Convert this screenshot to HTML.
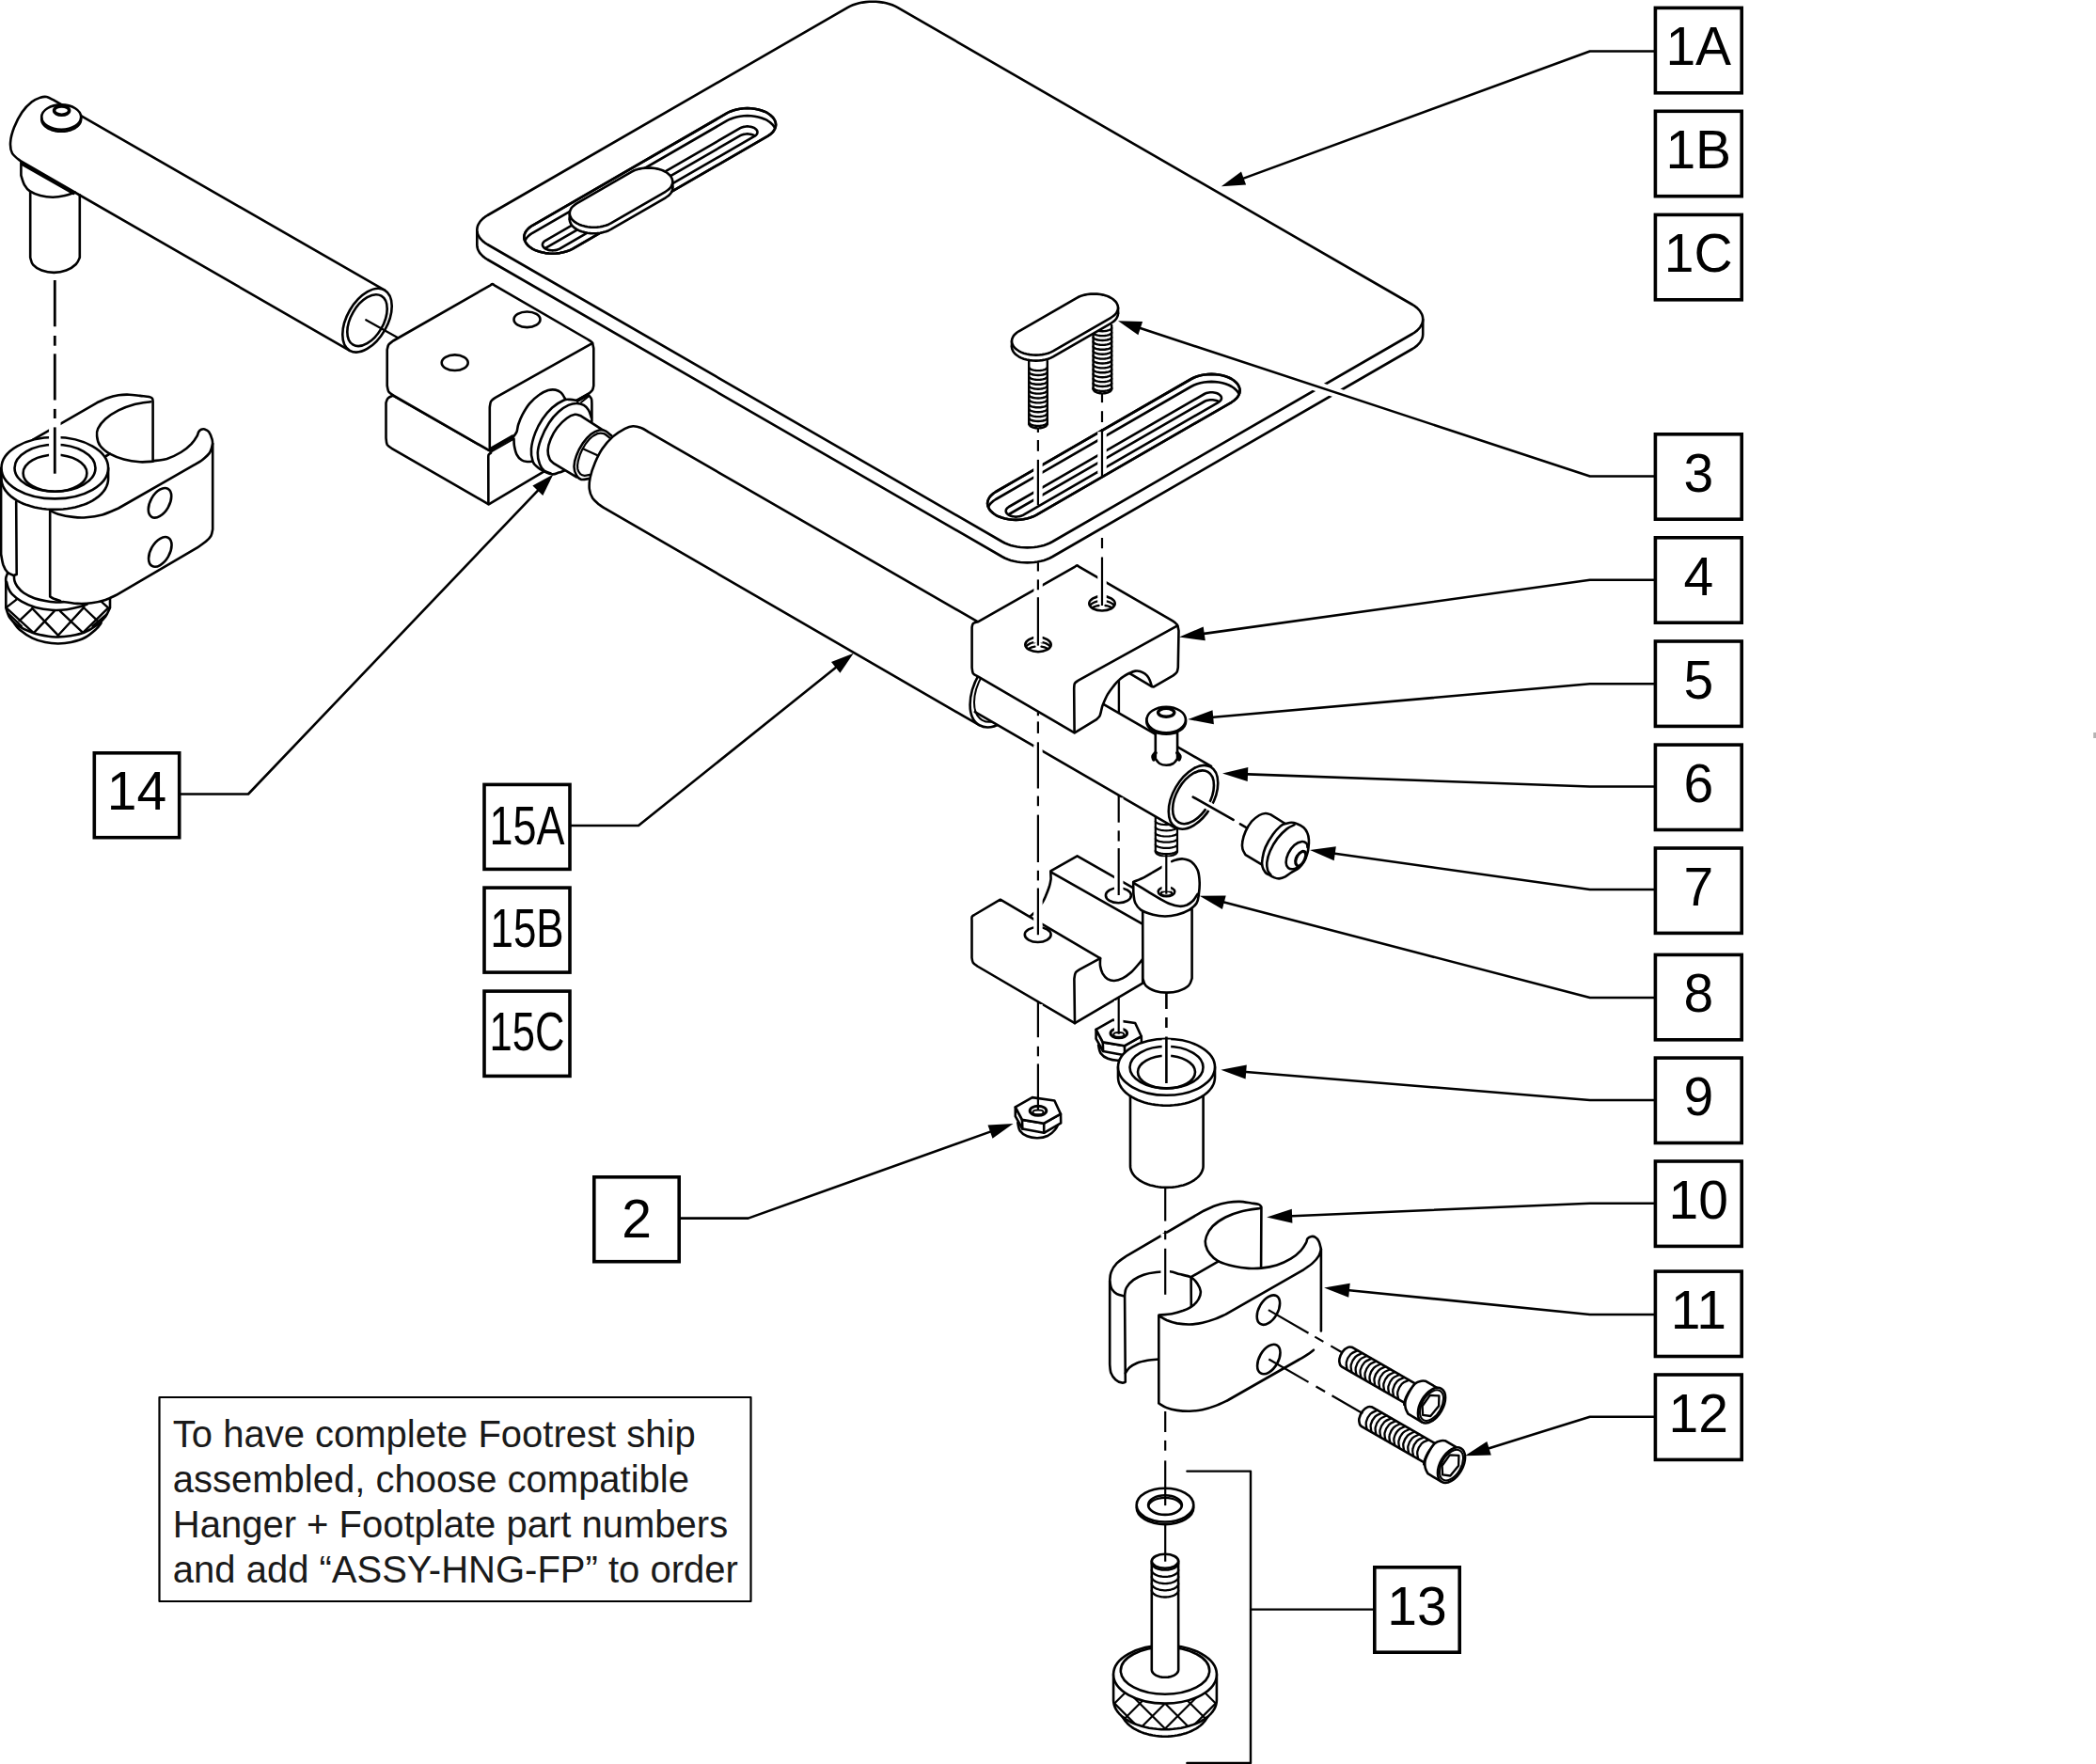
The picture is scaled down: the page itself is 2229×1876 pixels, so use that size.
<!DOCTYPE html>
<html><head><meta charset="utf-8"><title>Footrest exploded view</title>
<style>
html,body{margin:0;padding:0;background:#fff;}
body{width:2229px;height:1876px;overflow:hidden;}
svg{display:block;}
text{font-family:"Liberation Sans",sans-serif;}
</style></head><body>
<svg width="2229" height="1876" viewBox="0 0 2229 1876" fill="none" stroke="#000" stroke-width="2.6" stroke-linecap="round" stroke-linejoin="round">
<rect x="2226.2" y="779" width="3" height="6" fill="#b3b3b3" stroke="none"/>
<path d="M409.1 308.6 L56.1 105.9 C55 105.4 51.7 103.4 49.6 103 C47.4 102.7 45.6 102.8 43 103.7 C40.4 104.6 37.2 105.6 33.9 108.3 C30.6 110.9 26.6 114.8 23.5 119.3 C20.3 123.9 17.1 130.3 15 135.6 C12.9 141 11.4 146.7 11.1 151.3 C10.8 155.8 11.2 159.7 13 163 C14.9 166.4 20.6 170.1 22.2 171.5 L371.9 372.8 Z" fill="#fff"/>
<ellipse cx="390.5" cy="340.7" rx="21.4" ry="37.1" fill="#fff" transform="rotate(30 390.5 340.7)"/>
<ellipse cx="390.5" cy="340.7" rx="17.3" ry="30" transform="rotate(30 390.5 340.7)"/>
<path d="M389.2 340.2 L423.2 359.3" stroke-width="2.2"/>
<ellipse cx="65.2" cy="124.6" rx="21" ry="13.2" fill="#fff"/>
<path d="M86.1 125.4 L86.2 126.5 L86.1 127.6 L85.9 128.7 L85.6 129.8 L85.1 130.8 L84.5 131.9 L83.7 132.8 L82.8 133.8 L81.8 134.7 L80.7 135.5 L79.5 136.3 L78.1 137 L76.7 137.6 L75.2 138.2 L73.7 138.7 L72 139.1 L70.4 139.4 L68.7 139.6 L66.9 139.8 L65.2 139.8 L63.5 139.8 L61.7 139.6 L60 139.4 L58.4 139.1 L56.7 138.7 L55.2 138.2 L53.7 137.6 L52.3 137 L50.9 136.3 L49.7 135.5 L48.6 134.7 L47.6 133.8 L46.7 132.8 L45.9 131.9 L45.3 130.8 L44.8 129.8 L44.5 128.7 L44.3 127.6 L44.2 126.5 L44.3 125.4"/>
<ellipse cx="65.6" cy="117.6" rx="8" ry="4.7" stroke-width="3.6"/>
<path d="M22.4 172.4 L22.4 186.5 C23 188.2 24.5 194.1 26.1 196.9 C27.7 199.7 29.1 201.6 31.9 203.4 C34.8 205.3 39 207 43 208 C47.1 209.1 51.7 209.7 56.1 209.7 C60.4 209.7 65.2 208.9 69.1 208 C73.1 207.1 78 205.1 79.8 204.5"/>
<path d="M23.7 174.5 L78.2 205.5" stroke-width="3.2"/>
<path d="M32.2 204.1 L32.2 273.9 C32.7 275.2 33.2 279.4 35.2 281.7 C37.2 284 40.6 286.2 44.3 287.5 C48 288.9 53 289.9 57.4 289.9 C61.7 289.9 66.5 289 70.4 287.5 C74.3 286.1 78.5 283.3 80.8 281 C83.2 278.7 84.1 275.1 84.8 273.9 L84.8 207.4"/>
<path d="M6.3 619 L6.3 646.5 C7 648.2 8.3 653.7 10.3 656.8 C12.3 659.9 14.3 662.1 18.3 664.8 C22.3 667.5 28.8 670.8 34.4 672.8 C39.9 674.8 46.9 676.1 51.5 676.8 C56.1 677.6 58 677.5 61.8 677.4 C65.7 677.3 69.8 677 74.4 676.3 C79 675.5 84.5 674.7 89.3 672.8 C94.1 670.9 99.2 667.7 103.1 664.8 C106.9 662 109.9 658.7 112.2 655.7 C114.5 652.6 116.2 648 117 646.5 L117 636.2" fill="#fff"/>
<path d="M14.9 662.5 C15.8 663.7 17.4 666.7 20.6 669.4 C23.9 672.1 29.8 676.3 34.4 678.6 C38.9 680.8 43.5 682.1 48.1 683.1 C52.7 684.1 57.3 684.5 61.8 684.5 C66.4 684.5 70.8 684.2 75.6 683.1 C80.3 682 86.1 680.3 90.5 678 C94.9 675.7 99 672 101.9 669.4 C104.8 666.8 106.7 663.7 107.6 662.5"/>
<path d="M7.1 619 C7.3 620 7.7 622.6 8.6 624.7 C9.5 626.8 10.2 629.1 12.6 631.6 C15 634.1 18.7 637.2 22.9 639.6 C27.1 642 32.4 644.4 37.8 645.9 C43.1 647.4 49.4 648.4 55 648.8 C60.5 649.2 66 648.8 71 648.2 C76 647.6 81.1 646.3 84.7 645.3 C88.4 644.4 91.4 643 92.8 642.5"/>
<path d="M6.9 645.9 L17.2 637.9" stroke-width="2.4"/>
<path d="M20.6 660.2 L34.4 647.1" stroke-width="2.4"/>
<path d="M36.1 672.8 L57.8 649.9" stroke-width="2.4"/>
<path d="M61.8 675.7 L89.3 645.9" stroke-width="2.4"/>
<path d="M88.2 672.8 L114.5 647.1" stroke-width="2.4"/>
<path d="M98.5 666 L113.4 653.4" stroke-width="2.4"/>
<path d="M7.4 647.1 L35.5 672.8" stroke-width="2.4"/>
<path d="M34.4 647.1 L61.8 675.7" stroke-width="2.4"/>
<path d="M64.1 650.2 L88.2 672.8" stroke-width="2.4"/>
<path d="M89.3 646.5 L103.1 659.7" stroke-width="2.4"/>
<path d="M107.6 639.6 L115.9 647.1" stroke-width="2.4"/>
<path d="M9.2 652.8 L22.9 666" stroke-width="2.4"/>
<path d="M8 609.8 C7.7 610.6 6.6 612.8 6.3 614.4 C6 616.1 6.3 618.7 6.3 619.6"/>
<path d="M35.5 467.3 L103.1 428.3 C105 427.5 110.7 424.5 114.5 423.2 C118.3 421.8 122.1 420.9 126 420.3 C129.8 419.7 133.6 419.6 137.4 419.7 C141.2 419.8 145.3 420.5 148.9 420.9 C152.4 421.3 156.4 421.5 158.6 422 C160.8 422.5 161.4 422.9 162 423.7 C162.7 424.6 162.5 426.6 162.6 427.2 L162.6 490.2 C165.1 489.8 172.5 489.4 177.5 487.9 C182.4 486.3 188 483.7 192.4 481 C196.8 478.3 201 474.7 203.8 471.8 C206.7 469 208.3 465.9 209.5 463.8 C210.8 461.7 210.5 460.4 211.3 459.2 C212 458.1 213.1 457.2 214.1 456.7 C215.2 456.2 216.2 456 217.6 456.4 C218.9 456.8 220.8 457.4 222.1 459.2 C223.5 461.1 224.9 464.8 225.6 467.3 C226.2 469.7 226.1 473 226.2 474.1 L226.2 562.9 C225.9 564 225.6 567.7 224.4 569.8 C223.3 571.9 221.6 573.5 219.3 575.5 C217 577.5 212.1 580.7 210.7 581.8 L123.7 632.8 C121.8 633.6 116.6 636.5 112.2 637.9 C107.8 639.3 102.3 640.7 97.3 641.3 C92.4 642 87.2 642.1 82.4 641.9 C77.7 641.7 72.5 640.4 68.7 640.2 C64.9 640 63 640.7 59.5 640.5 C56.1 640.3 51.9 639.8 48.1 639 C44.3 638.3 40.5 637.6 36.6 636.2 C32.8 634.8 28.2 632.6 25.2 630.5 C22.1 628.4 19.9 625.7 18.3 623.6 C16.7 621.5 16 619.8 15.5 617.9 C14.9 616 15 613.1 14.9 612.1 C13.7 611.6 9.9 610.6 8 608.7 C6.1 606.8 4.6 603.9 3.4 600.7 C2.3 597.4 1.5 591.1 1.1 589.2 L1.1 498.2Z" fill="#fff"/>
<path d="M160.3 427.2 C157.4 427.7 148.9 428.5 143.1 430 C137.4 431.6 131.1 433.8 126 436.3 C120.8 438.9 115.8 442.3 112.2 445.5 C108.6 448.7 105.7 452.7 104.2 455.8 C102.7 458.9 102.7 460.8 103.1 463.8 C103.4 466.9 104.2 471 106.5 474.1 C108.8 477.3 112.6 480.3 116.8 482.7 C121 485.1 126.3 487 131.7 488.4 C137 489.9 143.7 490.9 148.9 491.3 C154 491.7 160.3 490.8 162.6 490.7"/>
<path d="M116.8 482.7 L112.8 485"/>
<path d="M226.2 471.8 C225.7 473.4 225.1 478.1 223.3 481 C221.5 483.9 218.1 486.7 215.3 489 C212.4 491.3 207.6 493.8 206.1 494.7 L126 540.5 C123.1 541.7 114.5 545.8 108.8 547.4 C103.1 549 96.8 549.9 91.6 550.3 C86.5 550.7 82.8 550.5 77.9 549.9 C72.9 549.4 65.9 548 61.8 546.8 C57.8 545.7 55 543.7 53.6 543.1"/>
<path d="M53.2 542.8 L53.2 634.5M53.2 634.5 C53.9 634.9 55.4 636 57.3 636.8 C59.1 637.5 63 638.7 64.1 639"/>
<path d="M17.2 533.7 L17.7 611 C17.3 611.1 15.4 611.8 14.9 611.9"/>
<path d="M1.5 497.7 L1.5 509.2 L1.7 511.8 L2.2 514.3 L3.1 516.8 L4.3 519.3 L5.8 521.7 L7.7 524 L9.9 526.3 L12.3 528.4 L15.1 530.4 L18.1 532.3 L21.4 534.1 L24.9 535.7 L28.6 537.1 L32.5 538.3 L36.6 539.4 L40.7 540.3 L45 541 L49.4 541.5 L53.8 541.8 L58.3 541.9 L62.8 541.8 L67.2 541.5 L71.6 541 L75.9 540.3 L80 539.4 L84.1 538.3 L88 537.1 L91.7 535.7 L95.2 534.1 L98.5 532.3 L101.5 530.4 L104.3 528.4 L106.7 526.3 L108.9 524 L110.8 521.7 L112.3 519.3 L113.5 516.8 L114.4 514.3 L114.9 511.8 L115.1 509.2 L115.1 497.7" fill="#fff"/>
<ellipse cx="58.3" cy="497.7" rx="56.8" ry="32.7" fill="#fff"/>
<ellipse cx="58.5" cy="497.7" rx="43" ry="25"/>
<ellipse cx="58.5" cy="503.2" rx="33.9" ry="19.5"/>
<ellipse cx="170" cy="534.8" rx="10" ry="17.3" transform="rotate(30 170 534.8)"/>
<ellipse cx="170.3" cy="586.9" rx="10" ry="17.3" transform="rotate(30 170.3 586.9)"/>
<path d="M58.3 298 L58.3 347.3" stroke-width="2.8" stroke-linecap="butt"/>
<path d="M58.3 357 L58.3 367.7" stroke-width="2.8" stroke-linecap="butt"/>
<path d="M58.3 376.3 L58.3 425.5" stroke-width="2.8" stroke-linecap="butt"/>
<path d="M58.3 434.9 L58.3 445" stroke-width="2.8" stroke-linecap="butt"/>
<path d="M58.3 449 L58.3 500.5" stroke="#fff" stroke-width="12.5" stroke-linecap="butt"/>
<path d="M58.3 454.4 L58.3 503.7" stroke-width="2.8" stroke-linecap="butt"/>
<path d="M418.1 420.5 C417.2 421 413.8 422.3 412.5 423.7 C411.3 425 410.8 427.6 410.5 428.4 L410.5 465.7 C410.7 466.9 410.7 471 411.7 472.9 C412.8 474.7 415.7 476.2 416.5 476.8 L519.7 536.3 L577.8 501.8 L629.4 448.1 L629.4 429.2 C629.3 428.3 629.5 425.5 628.9 424 C628.4 422.5 626.4 420.8 625.9 420.2 L520.5 479.2Z" fill="#fff"/>
<path d="M521.6 303.3 C521.9 303.1 523 302.1 523.7 302.1 C524.3 302.1 525.4 303.1 525.7 303.3 L625.2 361 C626 361.5 628.7 362.9 629.7 364.4 C630.7 366 631 369.5 631.3 370.5 L631.3 410.2 C631.1 411 630.8 413.5 630 414.9 C629.2 416.3 627 417.8 626.3 418.4 L520.5 479.2 L418.1 420.5 C417.3 419.8 414.4 418.2 413.3 416.5 C412.3 414.8 412 411.2 411.7 410.2 L411.7 372.1 C412 371.1 412.3 368.1 413.3 366.5 C414.4 364.9 417.3 363.2 418.1 362.5Z" fill="#fff"/>
<path d="M630.2 364.9 L526.8 422.9 C526 423.5 523.1 425.1 522.1 426.8 C521.1 428.5 521 432.1 520.8 433.2 L520.8 478.4"/>
<path d="M521.2 476.9 L545.2 463.2" stroke-width="1.9"/>
<path d="M522 480.7 L546.1 467" stroke-width="1.9"/>
<path d="M625.9 418.7 L613.1 425.6" stroke-width="1.9"/>
<path d="M626.6 421.1 L618 428" stroke-width="1.9"/>
<path d="M522 481.6 C521.6 481.9 520.1 482.8 519.6 483.7 C519.2 484.7 519.3 486.6 519.3 487.2 L519.4 536.1"/>
<ellipse cx="560.5" cy="339.8" rx="14" ry="8.3"/>
<ellipse cx="483.7" cy="385.7" rx="14" ry="8.3"/>
<path d="M546.1 464.4 C546.6 463.6 548.6 461.4 549.5 459.3 C550.4 457.1 550.2 454.5 551.2 451.5 C552.2 448.5 553.5 444.9 555.5 441.2 C557.5 437.5 560.2 432.8 563.2 429.2 C566.3 425.6 570.3 422.1 573.6 419.8 C576.8 417.4 580.1 415.9 583 415 C585.9 414.2 588.4 414.2 590.7 414.6 C593 415 595 416 596.7 417.6 C598.5 419.3 600.5 423.3 601.2 424.5 L613.1 429.2 L587.3 504.3 L566.3 490.6 C565.3 490.7 562.6 491.2 560.7 491 C558.7 490.8 556.5 490.6 554.7 489.3 C552.8 488 550.8 485.9 549.5 483.3 C548.2 480.7 547.4 476.6 546.9 473.9 C546.4 471.1 546.6 467.8 546.5 466.6Z" fill="#fff" stroke="none"/>
<path d="M546.1 464.4 C546.6 463.6 548.6 461.4 549.5 459.3 C550.4 457.1 550.2 454.5 551.2 451.5 C552.2 448.5 553.5 444.9 555.5 441.2 C557.5 437.5 560.2 432.8 563.2 429.2 C566.3 425.6 570.3 422.1 573.6 419.8 C576.8 417.4 580.1 415.9 583 415 C585.9 414.2 588.4 414.2 590.7 414.6 C593 415 595 416 596.7 417.6 C598.5 419.3 600.5 423.3 601.2 424.5"/>
<path d="M546.5 466.6 C546.6 467.8 546.4 471.1 546.9 473.9 C547.4 476.6 548.2 480.7 549.5 483.3 C550.8 485.9 552.8 488 554.7 489.3 C556.5 490.6 558.7 490.8 560.7 491 C562.6 491.2 565.3 490.7 566.3 490.6"/>
<path d="M613.1 425.8 C611.9 425.6 608.5 424.9 606.2 424.9 C603.9 424.9 602.5 424.3 599.3 425.8 C596.2 427.2 591 430.2 587.3 433.5 C583.6 436.8 580 441.1 577 445.5 C574 450 571.3 454.8 569.3 460.1 C567.3 465.4 565.4 472.1 565 477.3 C564.5 482.4 565.5 487.7 566.7 491 C567.8 494.3 569.8 495.3 571.8 497 C573.8 498.8 576.1 500.1 578.7 501.3 C581.3 502.6 584.7 504.1 587.3 504.3 C589.9 504.6 592 503.3 594.2 502.6 C596.3 502 599.2 500.8 600.2 500.5 L628.9 443.8 C628.4 442.5 627.3 438.2 625.9 436.1 C624.6 433.9 622.9 432.1 620.8 430.9 C618.6 429.8 614.3 429.5 613.1 429.2Z" fill="#fff" stroke="none"/>
<path d="M613.1 425.8 C611.9 425.6 608.5 424.9 606.2 424.9 C603.9 424.9 602.5 424.3 599.3 425.8 C596.2 427.2 591 430.2 587.3 433.5 C583.6 436.8 580 441.1 577 445.5 C574 450 571.3 454.8 569.3 460.1 C567.3 465.4 565.4 472.1 565 477.3 C564.5 482.4 565.5 487.7 566.7 491 C567.8 494.3 569.8 495.3 571.8 497 C573.8 498.8 576.1 500.1 578.7 501.3 C581.3 502.6 584.7 504.1 587.3 504.3 C589.9 504.6 592 503.3 594.2 502.6 C596.3 502 599.2 500.8 600.2 500.5"/>
<path d="M628.9 444.2 C628.4 442.9 627.3 438.3 625.9 436.1 C624.6 433.9 622.9 432.1 620.8 430.9 C618.6 429.7 615.8 429 613.1 429 C610.3 429 607.6 429.5 604.5 430.9 C601.3 432.4 597.6 434.6 594.2 437.8 C590.7 440.9 587 444.9 583.9 449.8 C580.7 454.7 577.3 461.7 575.3 467 C573.3 472.3 572 477.1 571.8 481.6 C571.6 486 572.8 490.5 574 493.6 C575.1 496.8 576.8 498.8 578.7 500.5 C580.6 502.1 584.4 503 585.6 503.5"/>
<path d="M617.4 442.1 C616.3 441.9 613.8 440.4 611.3 440.8 C608.9 441.2 605.9 442.3 602.8 444.7 C599.6 447 595.3 451.2 592.4 455 C589.6 458.7 587.2 463 585.6 467 C583.9 471 582.7 475.4 582.6 479 C582.4 482.6 583.6 486.2 584.7 488.5 C585.8 490.7 588.3 492 589 492.8 L613.1 507.4 L650 463.1Z" fill="#fff" stroke="none"/>
<path d="M650 463.1 L617.4 442.1 C616.3 441.9 613.8 440.4 611.3 440.8 C608.9 441.2 605.9 442.3 602.8 444.7 C599.6 447 595.3 451.2 592.4 455 C589.6 458.7 587.2 463 585.6 467 C583.9 471 582.7 475.4 582.6 479 C582.4 482.6 583.6 486.2 584.7 488.5 C585.8 490.7 588.3 492 589 492.8 L613.1 507.4"/>
<path d="M650.2 463.6 C649.1 462.7 646.2 459.4 644 458.4 C641.8 457.4 639.7 457 637.1 457.5 C634.5 458.1 631.4 459.5 628.5 461.8 C625.7 464.1 622.5 467.6 619.9 471.3 C617.4 475 614.6 480 613.1 484.2 C611.5 488.3 610.5 492.6 610.5 496.2 C610.5 499.8 611.8 503.3 613.1 505.6 C614.3 507.9 616.1 509.4 618.2 509.9 C620.4 510.5 624.7 509.2 625.9 509.1 L647.4 477.3 Z" fill="#fff" stroke="none"/>
<path d="M650.2 463.6 C649.1 462.7 646.2 459.4 644 458.4 C641.8 457.4 639.7 457 637.1 457.5 C634.5 458.1 631.4 459.5 628.5 461.8 C625.7 464.1 622.5 467.6 619.9 471.3 C617.4 475 614.6 480 613.1 484.2 C611.5 488.3 610.5 492.6 610.5 496.2 C610.5 499.8 611.8 503.3 613.1 505.6 C614.3 507.9 616.1 509.4 618.2 509.9 C620.4 510.5 624.7 509.2 625.9 509.1"/>
<path d="M648.4 465.7 C647.4 464.9 644.4 461.9 642.3 461.1 C640.1 460.4 638 460.2 635.4 461.1 C632.8 462.1 629.5 464.2 626.8 467 C624.1 469.8 621.1 474.3 619.1 478.2 C617.1 482 615.6 486.7 614.8 490.2 C614 493.6 613.9 496.4 614.3 498.8 C614.8 501.1 616.1 503.2 617.4 504.3 C618.6 505.5 619.9 505.7 621.6 505.8 C623.4 505.9 626.7 504.9 627.7 504.8" stroke-width="2.2"/>
<path d="M619.9 477.3 L635.4 484.2" stroke-width="2.2"/>
<path d="M1088.6 689.4 L690 459.7 C688.6 458.9 684.6 456 681.8 455 C679 453.9 676 453.1 673.2 453.2 C670.3 453.4 668.2 454 664.6 455.8 C661 457.7 655.7 460.8 651.7 464.4 C647.7 468 643.7 472.7 640.5 477.3 C637.4 481.9 635 486.9 632.8 491.9 C630.7 496.9 628.7 502.6 627.7 507.4 C626.7 512.1 626.4 516.5 626.8 520.2 C627.2 524 628.5 527 630.2 529.7 C632 532.4 635.1 534.8 637.1 536.6 C639.1 538.3 641.5 539.6 642.4 540.2 L1041.4 771.2Z" fill="#fff"/>
<ellipse cx="1065" cy="730.3" rx="27.3" ry="47.2" fill="#fff" transform="rotate(30 1065 730.3)"/>
<ellipse cx="1065" cy="730.3" rx="23.7" ry="41" stroke-width="2" transform="rotate(30 1065 730.3)"/>
<path d="M1228.8 868 L1228.8 905.5 L1252 905.5 L1252 868 Z" fill="#fff" stroke="none"/>
<path d="M1252 905.5 L1252 905.9 L1251.9 906.3 L1251.7 906.7 L1251.4 907.1 L1251.1 907.5 L1250.7 907.8 L1250.3 908.2 L1249.8 908.5 L1249.2 908.8 L1248.6 909.1 L1247.9 909.4 L1247.2 909.6 L1246.5 909.8 L1245.7 910 L1244.8 910.2 L1244 910.4 L1243.1 910.5 L1242.2 910.5 L1241.3 910.6 L1240.4 910.6 L1239.5 910.6 L1238.6 910.5 L1237.7 910.5 L1236.8 910.4 L1236 910.2 L1235.1 910 L1234.3 909.8 L1233.6 909.6 L1232.9 909.4 L1232.2 909.1 L1231.6 908.8 L1231 908.5 L1230.5 908.2 L1230.1 907.8 L1229.7 907.5 L1229.4 907.1 L1229.1 906.7 L1228.9 906.3 L1228.8 905.9 L1228.8 905.5" stroke-width="2.2" fill="#fff"/>
<path d="M1228.8 868 L1228.8 905.5" stroke-width="2.2"/>
<path d="M1252 868 L1252 905.5" stroke-width="2.2"/>
<path d="M1252 904.5 L1251.6 905.4 L1250.4 906.3 L1248.6 907 L1246.2 907.6 L1243.4 908 L1240.4 908.1 L1237.4 908 L1234.6 907.6 L1232.2 907 L1230.4 906.3 L1229.2 905.4 L1228.8 904.5" stroke-width="2.2"/>
<path d="M1252 898.3 L1251.6 899.2 L1250.4 900.1 L1248.6 900.8 L1246.2 901.4 L1243.4 901.8 L1240.4 901.9 L1237.4 901.8 L1234.6 901.4 L1232.2 900.8 L1230.4 900.1 L1229.2 899.2 L1228.8 898.3" stroke-width="2.2"/>
<path d="M1252 892.1 L1251.6 893 L1250.4 893.9 L1248.6 894.6 L1246.2 895.2 L1243.4 895.6 L1240.4 895.7 L1237.4 895.6 L1234.6 895.2 L1232.2 894.6 L1230.4 893.9 L1229.2 893 L1228.8 892.1" stroke-width="2.2"/>
<path d="M1252 885.9 L1251.6 886.8 L1250.4 887.7 L1248.6 888.4 L1246.2 889 L1243.4 889.4 L1240.4 889.5 L1237.4 889.4 L1234.6 889 L1232.2 888.4 L1230.4 887.7 L1229.2 886.8 L1228.8 885.9" stroke-width="2.2"/>
<path d="M1252 879.7 L1251.6 880.6 L1250.4 881.5 L1248.6 882.2 L1246.2 882.8 L1243.4 883.2 L1240.4 883.3 L1237.4 883.2 L1234.6 882.8 L1232.2 882.2 L1230.4 881.5 L1229.2 880.6 L1228.8 879.7" stroke-width="2.2"/>
<path d="M1252 873.5 L1251.6 874.4 L1250.4 875.3 L1248.6 876 L1246.2 876.6 L1243.4 877 L1240.4 877.1 L1237.4 877 L1234.6 876.6 L1232.2 876 L1230.4 875.3 L1229.2 874.4 L1228.8 873.5" stroke-width="2.2"/>
<path d="M1084 697.4 L1288 814.9 L1250 880.7 L1046 763.2Z" fill="#fff" stroke="none"/>
<path d="M1036.8 757.1 L1250 880.7"/>
<path d="M1084 697.4 L1288 814.9"/>
<ellipse cx="1269" cy="847.8" rx="21.4" ry="37.1" fill="#fff" transform="rotate(30 1269 847.8)"/>
<ellipse cx="1269" cy="847.8" rx="17.9" ry="31" transform="rotate(30 1269 847.8)"/>
<path d="M1513.2 339.5 L1513.2 355.5 L1513 357.6 L1512.5 359.7 L1511.6 361.7 L1510.4 363.7 L1508.8 365.7 L1506.9 367.6 L1504.7 369.3 L1502.1 371 L1119.3 592 L1116.5 593.5 L1113.4 594.8 L1110.2 595.9 L1106.8 596.8 L1103.3 597.5 L1099.8 598 L1096.1 598.3 L1092.5 598.4 L1088.9 598.3 L1085.2 598 L1081.7 597.5 L1078.2 596.8 L1074.8 595.9 L1071.6 594.8 L1068.5 593.5 L1065.7 592 L518.4 276 L515.8 274.3 L513.6 272.6 L511.7 270.7 L510.1 268.8 L508.9 266.7 L508 264.7 L507.5 262.6 L507.3 260.5 L507.3 244.5 L507.3 244.5Z" fill="#fff"/>
<path d="M518.4 260 L515.8 258.3 L513.6 256.6 L511.7 254.7 L510.1 252.8 L508.9 250.7 L508 248.7 L507.5 246.6 L507.3 244.5 L507.5 242.4 L508 240.3 L508.9 238.3 L510.1 236.3 L511.7 234.3 L513.6 232.4 L515.8 230.7 L518.4 229 L901.2 8.1 L904 6.6 L907.1 5.3 L910.3 4.2 L913.7 3.3 L917.2 2.6 L920.7 2.1 L924.4 1.8 L928 1.7 L931.6 1.8 L935.3 2.1 L938.8 2.6 L942.3 3.3 L945.7 4.2 L948.9 5.3 L952 6.6 L954.8 8.1 L1502.1 324 L1504.7 325.7 L1506.9 327.4 L1508.8 329.3 L1510.4 331.3 L1511.6 333.3 L1512.5 335.3 L1513 337.4 L1513.2 339.5 L1513 341.6 L1512.5 343.7 L1511.6 345.7 L1510.4 347.7 L1508.8 349.7 L1506.9 351.6 L1504.7 353.3 L1502.1 355 L1119.3 576 L1116.5 577.5 L1113.4 578.8 L1110.2 579.9 L1106.8 580.8 L1103.3 581.5 L1099.8 582 L1096.1 582.3 L1092.5 582.4 L1088.9 582.3 L1085.2 582 L1081.7 581.5 L1078.2 580.8 L1074.8 579.9 L1071.6 578.8 L1068.5 577.5 L1065.7 576Z" fill="#fff"/>
<path d="M773.4 120.2 L776.4 118.7 L779.7 117.5 L783.2 116.5 L787 115.7 L790.9 115.3 L794.8 115.1 L798.7 115.3 L802.6 115.7 L806.4 116.5 L809.9 117.5 L813.2 118.7 L816.2 120.2 L818.8 122 L821 123.9 L822.7 125.9 L824 128.1 L824.8 130.3 L825.1 132.6 L824.8 134.9 L824 137.1 L822.7 139.3 L821 141.3 L818.8 143.2 L816.2 144.9 L609 264.6 L606 266.1 L602.7 267.3 L599.2 268.3 L595.4 269.1 L591.5 269.5 L587.6 269.7 L583.7 269.5 L579.8 269.1 L576 268.3 L572.5 267.3 L569.2 266.1 L566.2 264.6 L563.6 262.8 L561.4 260.9 L559.7 258.9 L558.4 256.7 L557.6 254.5 L557.3 252.2 L557.6 249.9 L558.4 247.7 L559.7 245.5 L561.4 243.5 L563.6 241.6 L566.2 239.8Z" fill="#fff"/>
<clipPath id="c587"><path d="M773.4 120.2 L776.4 118.7 L779.7 117.5 L783.2 116.5 L787 115.7 L790.9 115.3 L794.8 115.1 L798.7 115.3 L802.6 115.7 L806.4 116.5 L809.9 117.5 L813.2 118.7 L816.2 120.2 L818.8 122 L821 123.9 L822.7 125.9 L824 128.1 L824.8 130.3 L825.1 132.6 L824.8 134.9 L824 137.1 L822.7 139.3 L821 141.3 L818.8 143.2 L816.2 144.9 L609 264.6 L606 266.1 L602.7 267.3 L599.2 268.3 L595.4 269.1 L591.5 269.5 L587.6 269.7 L583.7 269.5 L579.8 269.1 L576 268.3 L572.5 267.3 L569.2 266.1 L566.2 264.6 L563.6 262.8 L561.4 260.9 L559.7 258.9 L558.4 256.7 L557.6 254.5 L557.3 252.2 L557.6 249.9 L558.4 247.7 L559.7 245.5 L561.4 243.5 L563.6 241.6 L566.2 239.8Z"/></clipPath>
<g clip-path="url(#c587)">
<path d="M773.4 128.2 L776.4 126.7 L779.7 125.5 L783.2 124.5 L787 123.7 L790.9 123.3 L794.8 123.1 L798.7 123.3 L802.6 123.7 L806.4 124.5 L809.9 125.5 L813.2 126.7 L816.2 128.2 L818.8 130 L821 131.9 L822.7 133.9 L824 136.1 L824.8 138.3 L825.1 140.6 L824.8 142.9 L824 145.1 L822.7 147.3 L821 149.3 L818.8 151.2 L816.2 152.9 L609 272.6 L606 274.1 L602.7 275.3 L599.2 276.3 L595.4 277.1 L591.5 277.5 L587.6 277.7 L583.7 277.5 L579.8 277.1 L576 276.3 L572.5 275.3 L569.2 274.1 L566.2 272.6 L563.6 270.8 L561.4 268.9 L559.7 266.9 L558.4 264.7 L557.6 262.5 L557.3 260.2 L557.6 257.9 L558.4 255.7 L559.7 253.5 L561.4 251.5 L563.6 249.6 L566.2 247.8Z"/>
<path d="M787.3 136.2 L788.3 135.7 L789.5 135.3 L790.7 134.9 L792 134.7 L793.4 134.5 L794.8 134.4 L796.2 134.5 L797.6 134.7 L798.9 134.9 L800.1 135.3 L801.3 135.7 L802.3 136.2 L803.3 136.9 L804 137.5 L804.6 138.2 L805.1 139 L805.4 139.8 L805.5 140.6 L805.4 141.4 L805.1 142.2 L804.6 143 L804 143.7 L803.3 144.3 L802.3 144.9 L595.1 264.6 L594.1 265.1 L592.9 265.5 L591.7 265.9 L590.4 266.1 L589 266.3 L587.6 266.4 L586.2 266.3 L584.8 266.1 L583.5 265.9 L582.3 265.5 L581.1 265.1 L580.1 264.6 L579.1 263.9 L578.4 263.3 L577.8 262.6 L577.3 261.8 L577 261 L576.9 260.2 L577 259.4 L577.3 258.6 L577.8 257.8 L578.4 257.1 L579.1 256.5 L580.1 255.8Z"/>
<clipPath id="c587i"><path d="M787.3 136.2 L788.3 135.7 L789.5 135.3 L790.7 134.9 L792 134.7 L793.4 134.5 L794.8 134.4 L796.2 134.5 L797.6 134.7 L798.9 134.9 L800.1 135.3 L801.3 135.7 L802.3 136.2 L803.3 136.9 L804 137.5 L804.6 138.2 L805.1 139 L805.4 139.8 L805.5 140.6 L805.4 141.4 L805.1 142.2 L804.6 143 L804 143.7 L803.3 144.3 L802.3 144.9 L595.1 264.6 L594.1 265.1 L592.9 265.5 L591.7 265.9 L590.4 266.1 L589 266.3 L587.6 266.4 L586.2 266.3 L584.8 266.1 L583.5 265.9 L582.3 265.5 L581.1 265.1 L580.1 264.6 L579.1 263.9 L578.4 263.3 L577.8 262.6 L577.3 261.8 L577 261 L576.9 260.2 L577 259.4 L577.3 258.6 L577.8 257.8 L578.4 257.1 L579.1 256.5 L580.1 255.8Z"/></clipPath>
<g clip-path="url(#c587i)">
<path d="M787.3 144.2 L788.3 143.7 L789.5 143.3 L790.7 142.9 L792 142.7 L793.4 142.5 L794.8 142.4 L796.2 142.5 L797.6 142.7 L798.9 142.9 L800.1 143.3 L801.3 143.7 L802.3 144.2 L803.3 144.9 L804 145.5 L804.6 146.2 L805.1 147 L805.4 147.8 L805.5 148.6 L805.4 149.4 L805.1 150.2 L804.6 151 L804 151.7 L803.3 152.3 L802.3 152.9 L595.1 272.6 L594.1 273.1 L592.9 273.5 L591.7 273.9 L590.4 274.1 L589 274.3 L587.6 274.4 L586.2 274.3 L584.8 274.1 L583.5 273.9 L582.3 273.5 L581.1 273.1 L580.1 272.6 L579.1 271.9 L578.4 271.3 L577.8 270.6 L577.3 269.8 L577 269 L576.9 268.2 L577 267.4 L577.3 266.6 L577.8 265.8 L578.4 265.1 L579.1 264.5 L580.1 263.9Z"/>
</g></g>
<path d="M773.4 120.2 L776.4 118.7 L779.7 117.5 L783.2 116.5 L787 115.7 L790.9 115.3 L794.8 115.1 L798.7 115.3 L802.6 115.7 L806.4 116.5 L809.9 117.5 L813.2 118.7 L816.2 120.2 L818.8 122 L821 123.9 L822.7 125.9 L824 128.1 L824.8 130.3 L825.1 132.6 L824.8 134.9 L824 137.1 L822.7 139.3 L821 141.3 L818.8 143.2 L816.2 144.9 L609 264.6 L606 266.1 L602.7 267.3 L599.2 268.3 L595.4 269.1 L591.5 269.5 L587.6 269.7 L583.7 269.5 L579.8 269.1 L576 268.3 L572.5 267.3 L569.2 266.1 L566.2 264.6 L563.6 262.8 L561.4 260.9 L559.7 258.9 L558.4 256.7 L557.6 254.5 L557.3 252.2 L557.6 249.9 L558.4 247.7 L559.7 245.5 L561.4 243.5 L563.6 241.6 L566.2 239.8Z"/>
<path d="M1266.9 403 L1269.9 401.5 L1273.2 400.3 L1276.7 399.3 L1280.5 398.5 L1284.4 398.1 L1288.3 397.9 L1292.2 398.1 L1296.1 398.5 L1299.9 399.3 L1303.4 400.3 L1306.7 401.5 L1309.7 403 L1312.3 404.8 L1314.5 406.7 L1316.2 408.7 L1317.5 410.9 L1318.3 413.1 L1318.6 415.4 L1318.3 417.7 L1317.5 419.9 L1316.2 422.1 L1314.5 424.1 L1312.3 426 L1309.7 427.8 L1101.8 547.8 L1098.8 549.3 L1095.5 550.5 L1092 551.5 L1088.2 552.3 L1084.3 552.7 L1080.4 552.9 L1076.5 552.7 L1072.6 552.3 L1068.8 551.5 L1065.3 550.5 L1062 549.3 L1059 547.8 L1056.4 546 L1054.2 544.1 L1052.5 542.1 L1051.2 539.9 L1050.4 537.7 L1050.1 535.4 L1050.4 533.1 L1051.2 530.9 L1052.5 528.7 L1054.2 526.7 L1056.4 524.8 L1059 523Z" fill="#fff"/>
<clipPath id="c1080"><path d="M1266.9 403 L1269.9 401.5 L1273.2 400.3 L1276.7 399.3 L1280.5 398.5 L1284.4 398.1 L1288.3 397.9 L1292.2 398.1 L1296.1 398.5 L1299.9 399.3 L1303.4 400.3 L1306.7 401.5 L1309.7 403 L1312.3 404.8 L1314.5 406.7 L1316.2 408.7 L1317.5 410.9 L1318.3 413.1 L1318.6 415.4 L1318.3 417.7 L1317.5 419.9 L1316.2 422.1 L1314.5 424.1 L1312.3 426 L1309.7 427.8 L1101.8 547.8 L1098.8 549.3 L1095.5 550.5 L1092 551.5 L1088.2 552.3 L1084.3 552.7 L1080.4 552.9 L1076.5 552.7 L1072.6 552.3 L1068.8 551.5 L1065.3 550.5 L1062 549.3 L1059 547.8 L1056.4 546 L1054.2 544.1 L1052.5 542.1 L1051.2 539.9 L1050.4 537.7 L1050.1 535.4 L1050.4 533.1 L1051.2 530.9 L1052.5 528.7 L1054.2 526.7 L1056.4 524.8 L1059 523Z"/></clipPath>
<g clip-path="url(#c1080)">
<path d="M1266.9 411 L1269.9 409.5 L1273.2 408.3 L1276.7 407.3 L1280.5 406.5 L1284.4 406.1 L1288.3 405.9 L1292.2 406.1 L1296.1 406.5 L1299.9 407.3 L1303.4 408.3 L1306.7 409.5 L1309.7 411 L1312.3 412.8 L1314.5 414.7 L1316.2 416.7 L1317.5 418.9 L1318.3 421.1 L1318.6 423.4 L1318.3 425.7 L1317.5 427.9 L1316.2 430.1 L1314.5 432.1 L1312.3 434 L1309.7 435.8 L1101.8 555.8 L1098.8 557.3 L1095.5 558.5 L1092 559.5 L1088.2 560.3 L1084.3 560.7 L1080.4 560.9 L1076.5 560.7 L1072.6 560.3 L1068.8 559.5 L1065.3 558.5 L1062 557.3 L1059 555.8 L1056.4 554 L1054.2 552.1 L1052.5 550.1 L1051.2 547.9 L1050.4 545.7 L1050.1 543.4 L1050.4 541.1 L1051.2 538.9 L1052.5 536.7 L1054.2 534.7 L1056.4 532.8 L1059 531Z"/>
<path d="M1280.8 419 L1281.8 418.5 L1283 418.1 L1284.2 417.7 L1285.5 417.5 L1286.9 417.3 L1288.3 417.2 L1289.7 417.3 L1291.1 417.5 L1292.4 417.7 L1293.6 418.1 L1294.8 418.5 L1295.8 419 L1296.8 419.7 L1297.5 420.3 L1298.1 421 L1298.6 421.8 L1298.9 422.6 L1299 423.4 L1298.9 424.2 L1298.6 425 L1298.1 425.8 L1297.5 426.5 L1296.8 427.1 L1295.8 427.8 L1087.9 547.8 L1086.9 548.3 L1085.7 548.7 L1084.5 549.1 L1083.2 549.3 L1081.8 549.5 L1080.4 549.6 L1079 549.5 L1077.6 549.3 L1076.3 549.1 L1075.1 548.7 L1073.9 548.3 L1072.9 547.8 L1071.9 547.1 L1071.2 546.5 L1070.6 545.8 L1070.1 545 L1069.8 544.2 L1069.7 543.4 L1069.8 542.6 L1070.1 541.8 L1070.6 541 L1071.2 540.3 L1071.9 539.7 L1072.9 539Z"/>
<clipPath id="c1080i"><path d="M1280.8 419 L1281.8 418.5 L1283 418.1 L1284.2 417.7 L1285.5 417.5 L1286.9 417.3 L1288.3 417.2 L1289.7 417.3 L1291.1 417.5 L1292.4 417.7 L1293.6 418.1 L1294.8 418.5 L1295.8 419 L1296.8 419.7 L1297.5 420.3 L1298.1 421 L1298.6 421.8 L1298.9 422.6 L1299 423.4 L1298.9 424.2 L1298.6 425 L1298.1 425.8 L1297.5 426.5 L1296.8 427.1 L1295.8 427.8 L1087.9 547.8 L1086.9 548.3 L1085.7 548.7 L1084.5 549.1 L1083.2 549.3 L1081.8 549.5 L1080.4 549.6 L1079 549.5 L1077.6 549.3 L1076.3 549.1 L1075.1 548.7 L1073.9 548.3 L1072.9 547.8 L1071.9 547.1 L1071.2 546.5 L1070.6 545.8 L1070.1 545 L1069.8 544.2 L1069.7 543.4 L1069.8 542.6 L1070.1 541.8 L1070.6 541 L1071.2 540.3 L1071.9 539.7 L1072.9 539Z"/></clipPath>
<g clip-path="url(#c1080i)">
<path d="M1280.8 427 L1281.8 426.5 L1283 426.1 L1284.2 425.7 L1285.5 425.5 L1286.9 425.3 L1288.3 425.2 L1289.7 425.3 L1291.1 425.5 L1292.4 425.7 L1293.6 426.1 L1294.8 426.5 L1295.8 427 L1296.8 427.7 L1297.5 428.3 L1298.1 429 L1298.6 429.8 L1298.9 430.6 L1299 431.4 L1298.9 432.2 L1298.6 433 L1298.1 433.8 L1297.5 434.5 L1296.8 435.1 L1295.8 435.8 L1087.9 555.8 L1086.9 556.3 L1085.7 556.7 L1084.5 557.1 L1083.2 557.3 L1081.8 557.5 L1080.4 557.6 L1079 557.5 L1077.6 557.3 L1076.3 557.1 L1075.1 556.7 L1073.9 556.3 L1072.9 555.8 L1071.9 555.1 L1071.2 554.5 L1070.6 553.8 L1070.1 553 L1069.8 552.2 L1069.7 551.4 L1069.8 550.6 L1070.1 549.8 L1070.6 549 L1071.2 548.3 L1071.9 547.7 L1072.9 547Z"/>
</g></g>
<path d="M1266.9 403 L1269.9 401.5 L1273.2 400.3 L1276.7 399.3 L1280.5 398.5 L1284.4 398.1 L1288.3 397.9 L1292.2 398.1 L1296.1 398.5 L1299.9 399.3 L1303.4 400.3 L1306.7 401.5 L1309.7 403 L1312.3 404.8 L1314.5 406.7 L1316.2 408.7 L1317.5 410.9 L1318.3 413.1 L1318.6 415.4 L1318.3 417.7 L1317.5 419.9 L1316.2 422.1 L1314.5 424.1 L1312.3 426 L1309.7 427.8 L1101.8 547.8 L1098.8 549.3 L1095.5 550.5 L1092 551.5 L1088.2 552.3 L1084.3 552.7 L1080.4 552.9 L1076.5 552.7 L1072.6 552.3 L1068.8 551.5 L1065.3 550.5 L1062 549.3 L1059 547.8 L1056.4 546 L1054.2 544.1 L1052.5 542.1 L1051.2 539.9 L1050.4 537.7 L1050.1 535.4 L1050.4 533.1 L1051.2 530.9 L1052.5 528.7 L1054.2 526.7 L1056.4 524.8 L1059 523Z"/>
<path d="M671.4 189.3 L673.9 188 L676.7 186.9 L679.8 186.1 L682.9 185.5 L686.2 185.1 L689.6 185 L693 185.1 L696.3 185.5 L699.4 186.1 L702.5 186.9 L705.3 188 L707.8 189.3 L710 190.8 L711.9 192.4 L713.4 194.1 L714.4 196 L715.1 197.9 L715.3 199.8 L715.1 201.7 L714.4 203.6 L713.4 205.5 L711.9 207.2 L710 208.8 L707.8 210.3 L649.7 243.9 L647.2 245.2 L644.4 246.3 L641.3 247.1 L638.2 247.7 L634.9 248.1 L631.5 248.2 L628.1 248.1 L624.8 247.7 L621.7 247.1 L618.6 246.3 L615.8 245.2 L613.3 243.9 L611.1 242.4 L609.2 240.8 L607.7 239.1 L606.7 237.2 L606 235.3 L605.8 233.4 L606 231.5 L606.7 229.6 L607.7 227.7 L609.2 226 L611.1 224.4 L613.3 222.9Z" fill="#fff"/>
<path d="M605.8 226.9 L605.8 233.4"/>
<path d="M715.3 193.3 L715.3 199.8"/>
<path d="M671.4 182.8 L673.9 181.5 L676.7 180.4 L679.8 179.6 L682.9 179 L686.2 178.6 L689.6 178.5 L693 178.6 L696.3 179 L699.4 179.6 L702.5 180.4 L705.3 181.5 L707.8 182.8 L710 184.3 L711.9 185.9 L713.4 187.6 L714.4 189.5 L715.1 191.4 L715.3 193.3 L715.1 195.2 L714.4 197.1 L713.4 199 L711.9 200.7 L710 202.3 L707.8 203.8 L649.7 237.4 L647.2 238.7 L644.4 239.8 L641.3 240.6 L638.2 241.2 L634.9 241.6 L631.5 241.7 L628.1 241.6 L624.8 241.2 L621.7 240.6 L618.6 239.8 L615.8 238.7 L613.3 237.4 L611.1 235.9 L609.2 234.3 L607.7 232.6 L606.7 230.7 L606 228.8 L605.8 226.9 L606 225 L606.7 223.1 L607.7 221.2 L609.2 219.5 L611.1 217.9 L613.3 216.4Z" fill="#fff"/>
<path d="M1103.9 471 L1103.9 476.8" stroke="#fff" stroke-width="9.5" stroke-linecap="butt"/>
<path d="M1103.9 491.9 L1103.9 534" stroke="#fff" stroke-width="9.5" stroke-linecap="butt"/>
<path d="M1103.9 454.4 L1103.9 459.9" stroke-width="2.2" stroke-linecap="butt"/>
<path d="M1103.9 468 L1103.9 479.8" stroke-width="2.2" stroke-linecap="butt"/>
<path d="M1103.9 488.9 L1103.9 537" stroke-width="2.2" stroke-linecap="butt"/>
<path d="M1172 421.1 L1172 425.1" stroke="#fff" stroke-width="9.5" stroke-linecap="butt"/>
<path d="M1172 440.2 L1172 446" stroke="#fff" stroke-width="9.5" stroke-linecap="butt"/>
<path d="M1172 459.2 L1172 503.1" stroke="#fff" stroke-width="9.5" stroke-linecap="butt"/>
<path d="M1172 418.1 L1172 428.1" stroke-width="2.2" stroke-linecap="butt"/>
<path d="M1172 437.2 L1172 449" stroke-width="2.2" stroke-linecap="butt"/>
<path d="M1172 456.2 L1172 506.1" stroke-width="2.2" stroke-linecap="butt"/>
<path d="M1094.2 384 L1094.2 450.5 L1113.8 450.5 L1113.8 384 Z" fill="#fff" stroke="none"/>
<path d="M1113.8 450.5 L1113.8 450.9 L1113.7 451.3 L1113.5 451.6 L1113.3 452 L1113.1 452.4 L1112.7 452.7 L1112.4 453.1 L1111.9 453.4 L1111.5 453.7 L1110.9 454 L1110.4 454.2 L1109.8 454.5 L1109.1 454.7 L1108.4 454.9 L1107.8 455 L1107 455.2 L1106.3 455.3 L1105.5 455.3 L1104.8 455.4 L1104 455.4 L1103.2 455.4 L1102.5 455.3 L1101.7 455.3 L1101 455.2 L1100.2 455 L1099.6 454.9 L1098.9 454.7 L1098.2 454.5 L1097.6 454.2 L1097.1 454 L1096.5 453.7 L1096.1 453.4 L1095.6 453.1 L1095.3 452.7 L1094.9 452.4 L1094.7 452 L1094.5 451.6 L1094.3 451.3 L1094.2 450.9 L1094.2 450.5" stroke-width="2.4" fill="#fff"/>
<path d="M1094.2 384 L1094.2 450.5" stroke-width="2.4"/>
<path d="M1113.8 384 L1113.8 450.5" stroke-width="2.4"/>
<path d="M1113.8 449.5 L1113.5 450.4 L1112.5 451.2 L1110.9 451.9 L1108.9 452.4 L1106.5 452.8 L1104 452.9 L1101.5 452.8 L1099.1 452.4 L1097.1 451.9 L1095.5 451.2 L1094.5 450.4 L1094.2 449.5" stroke-width="2.4"/>
<path d="M1113.8 444.6 L1113.5 445.5 L1112.5 446.3 L1110.9 447 L1108.9 447.5 L1106.5 447.9 L1104 448 L1101.5 447.9 L1099.1 447.5 L1097.1 447 L1095.5 446.3 L1094.5 445.5 L1094.2 444.6" stroke-width="2.4"/>
<path d="M1113.8 439.7 L1113.5 440.6 L1112.5 441.4 L1110.9 442.1 L1108.9 442.6 L1106.5 443 L1104 443.1 L1101.5 443 L1099.1 442.6 L1097.1 442.1 L1095.5 441.4 L1094.5 440.6 L1094.2 439.7" stroke-width="2.4"/>
<path d="M1113.8 434.8 L1113.5 435.7 L1112.5 436.5 L1110.9 437.2 L1108.9 437.7 L1106.5 438.1 L1104 438.2 L1101.5 438.1 L1099.1 437.7 L1097.1 437.2 L1095.5 436.5 L1094.5 435.7 L1094.2 434.8" stroke-width="2.4"/>
<path d="M1113.8 429.9 L1113.5 430.8 L1112.5 431.6 L1110.9 432.3 L1108.9 432.8 L1106.5 433.2 L1104 433.3 L1101.5 433.2 L1099.1 432.8 L1097.1 432.3 L1095.5 431.6 L1094.5 430.8 L1094.2 429.9" stroke-width="2.4"/>
<path d="M1113.8 425 L1113.5 425.9 L1112.5 426.7 L1110.9 427.4 L1108.9 427.9 L1106.5 428.3 L1104 428.4 L1101.5 428.3 L1099.1 427.9 L1097.1 427.4 L1095.5 426.7 L1094.5 425.9 L1094.2 425" stroke-width="2.4"/>
<path d="M1113.8 420.1 L1113.5 421 L1112.5 421.8 L1110.9 422.5 L1108.9 423 L1106.5 423.4 L1104 423.5 L1101.5 423.4 L1099.1 423 L1097.1 422.5 L1095.5 421.8 L1094.5 421 L1094.2 420.1" stroke-width="2.4"/>
<path d="M1113.8 415.2 L1113.5 416.1 L1112.5 416.9 L1110.9 417.6 L1108.9 418.1 L1106.5 418.5 L1104 418.6 L1101.5 418.5 L1099.1 418.1 L1097.1 417.6 L1095.5 416.9 L1094.5 416.1 L1094.2 415.2" stroke-width="2.4"/>
<path d="M1113.8 410.3 L1113.5 411.2 L1112.5 412 L1110.9 412.7 L1108.9 413.2 L1106.5 413.6 L1104 413.7 L1101.5 413.6 L1099.1 413.2 L1097.1 412.7 L1095.5 412 L1094.5 411.2 L1094.2 410.3" stroke-width="2.4"/>
<path d="M1113.8 405.4 L1113.5 406.3 L1112.5 407.1 L1110.9 407.8 L1108.9 408.3 L1106.5 408.7 L1104 408.8 L1101.5 408.7 L1099.1 408.3 L1097.1 407.8 L1095.5 407.1 L1094.5 406.3 L1094.2 405.4" stroke-width="2.4"/>
<path d="M1113.8 400.5 L1113.5 401.4 L1112.5 402.2 L1110.9 402.9 L1108.9 403.4 L1106.5 403.8 L1104 403.9 L1101.5 403.8 L1099.1 403.4 L1097.1 402.9 L1095.5 402.2 L1094.5 401.4 L1094.2 400.5" stroke-width="2.4"/>
<path d="M1113.8 395.6 L1113.5 396.5 L1112.5 397.3 L1110.9 398 L1108.9 398.5 L1106.5 398.9 L1104 399 L1101.5 398.9 L1099.1 398.5 L1097.1 398 L1095.5 397.3 L1094.5 396.5 L1094.2 395.6" stroke-width="2.4"/>
<path d="M1113.8 390.7 L1113.5 391.6 L1112.5 392.4 L1110.9 393.1 L1108.9 393.6 L1106.5 394 L1104 394.1 L1101.5 394 L1099.1 393.6 L1097.1 393.1 L1095.5 392.4 L1094.5 391.6 L1094.2 390.7" stroke-width="2.4"/>
<path d="M1162.6 346 L1162.6 413.5 L1182.2 413.5 L1182.2 346 Z" fill="#fff" stroke="none"/>
<path d="M1182.2 413.5 L1182.2 413.9 L1182.1 414.3 L1181.9 414.6 L1181.7 415 L1181.5 415.4 L1181.1 415.7 L1180.8 416.1 L1180.3 416.4 L1179.9 416.7 L1179.3 417 L1178.8 417.2 L1178.2 417.5 L1177.5 417.7 L1176.8 417.9 L1176.2 418 L1175.4 418.2 L1174.7 418.3 L1173.9 418.3 L1173.2 418.4 L1172.4 418.4 L1171.6 418.4 L1170.9 418.3 L1170.1 418.3 L1169.4 418.2 L1168.6 418 L1168 417.9 L1167.3 417.7 L1166.6 417.5 L1166 417.2 L1165.5 417 L1164.9 416.7 L1164.5 416.4 L1164 416.1 L1163.7 415.7 L1163.3 415.4 L1163.1 415 L1162.9 414.6 L1162.7 414.3 L1162.6 413.9 L1162.6 413.5" stroke-width="2.4" fill="#fff"/>
<path d="M1162.6 346 L1162.6 413.5" stroke-width="2.4"/>
<path d="M1182.2 346 L1182.2 413.5" stroke-width="2.4"/>
<path d="M1182.2 412.5 L1181.9 413.4 L1180.9 414.2 L1179.3 414.9 L1177.3 415.4 L1174.9 415.8 L1172.4 415.9 L1169.9 415.8 L1167.5 415.4 L1165.5 414.9 L1163.9 414.2 L1162.9 413.4 L1162.6 412.5" stroke-width="2.4"/>
<path d="M1182.2 407.6 L1181.9 408.5 L1180.9 409.3 L1179.3 410 L1177.3 410.5 L1174.9 410.9 L1172.4 411 L1169.9 410.9 L1167.5 410.5 L1165.5 410 L1163.9 409.3 L1162.9 408.5 L1162.6 407.6" stroke-width="2.4"/>
<path d="M1182.2 402.7 L1181.9 403.6 L1180.9 404.4 L1179.3 405.1 L1177.3 405.6 L1174.9 406 L1172.4 406.1 L1169.9 406 L1167.5 405.6 L1165.5 405.1 L1163.9 404.4 L1162.9 403.6 L1162.6 402.7" stroke-width="2.4"/>
<path d="M1182.2 397.8 L1181.9 398.7 L1180.9 399.5 L1179.3 400.2 L1177.3 400.7 L1174.9 401.1 L1172.4 401.2 L1169.9 401.1 L1167.5 400.7 L1165.5 400.2 L1163.9 399.5 L1162.9 398.7 L1162.6 397.8" stroke-width="2.4"/>
<path d="M1182.2 392.9 L1181.9 393.8 L1180.9 394.6 L1179.3 395.3 L1177.3 395.8 L1174.9 396.2 L1172.4 396.3 L1169.9 396.2 L1167.5 395.8 L1165.5 395.3 L1163.9 394.6 L1162.9 393.8 L1162.6 392.9" stroke-width="2.4"/>
<path d="M1182.2 388 L1181.9 388.9 L1180.9 389.7 L1179.3 390.4 L1177.3 390.9 L1174.9 391.3 L1172.4 391.4 L1169.9 391.3 L1167.5 390.9 L1165.5 390.4 L1163.9 389.7 L1162.9 388.9 L1162.6 388" stroke-width="2.4"/>
<path d="M1182.2 383.1 L1181.9 384 L1180.9 384.8 L1179.3 385.5 L1177.3 386 L1174.9 386.4 L1172.4 386.5 L1169.9 386.4 L1167.5 386 L1165.5 385.5 L1163.9 384.8 L1162.9 384 L1162.6 383.1" stroke-width="2.4"/>
<path d="M1182.2 378.2 L1181.9 379.1 L1180.9 379.9 L1179.3 380.6 L1177.3 381.1 L1174.9 381.5 L1172.4 381.6 L1169.9 381.5 L1167.5 381.1 L1165.5 380.6 L1163.9 379.9 L1162.9 379.1 L1162.6 378.2" stroke-width="2.4"/>
<path d="M1182.2 373.3 L1181.9 374.2 L1180.9 375 L1179.3 375.7 L1177.3 376.2 L1174.9 376.6 L1172.4 376.7 L1169.9 376.6 L1167.5 376.2 L1165.5 375.7 L1163.9 375 L1162.9 374.2 L1162.6 373.3" stroke-width="2.4"/>
<path d="M1182.2 368.4 L1181.9 369.3 L1180.9 370.1 L1179.3 370.8 L1177.3 371.3 L1174.9 371.7 L1172.4 371.8 L1169.9 371.7 L1167.5 371.3 L1165.5 370.8 L1163.9 370.1 L1162.9 369.3 L1162.6 368.4" stroke-width="2.4"/>
<path d="M1182.2 363.5 L1181.9 364.4 L1180.9 365.2 L1179.3 365.9 L1177.3 366.4 L1174.9 366.8 L1172.4 366.9 L1169.9 366.8 L1167.5 366.4 L1165.5 365.9 L1163.9 365.2 L1162.9 364.4 L1162.6 363.5" stroke-width="2.4"/>
<path d="M1182.2 358.6 L1181.9 359.5 L1180.9 360.3 L1179.3 361 L1177.3 361.5 L1174.9 361.9 L1172.4 362 L1169.9 361.9 L1167.5 361.5 L1165.5 361 L1163.9 360.3 L1162.9 359.5 L1162.6 358.6" stroke-width="2.4"/>
<path d="M1182.2 353.7 L1181.9 354.6 L1180.9 355.4 L1179.3 356.1 L1177.3 356.6 L1174.9 357 L1172.4 357.1 L1169.9 357 L1167.5 356.6 L1165.5 356.1 L1163.9 355.4 L1162.9 354.6 L1162.6 353.7" stroke-width="2.4"/>
<path d="M1182.2 348.8 L1181.9 349.7 L1180.9 350.5 L1179.3 351.2 L1177.3 351.7 L1174.9 352.1 L1172.4 352.2 L1169.9 352.1 L1167.5 351.7 L1165.5 351.2 L1163.9 350.5 L1162.9 349.7 L1162.6 348.8" stroke-width="2.4"/>
<path d="M1145.1 322.8 L1147.6 321.5 L1150.4 320.4 L1153.5 319.6 L1156.6 319 L1159.9 318.6 L1163.3 318.5 L1166.7 318.6 L1170 319 L1173.1 319.6 L1176.2 320.4 L1179 321.5 L1181.5 322.8 L1183.7 324.3 L1185.6 325.9 L1187.1 327.6 L1188.1 329.5 L1188.8 331.4 L1189 333.3 L1188.8 335.2 L1188.1 337.1 L1187.1 339 L1185.6 340.7 L1183.7 342.3 L1181.5 343.8 L1119.9 379.3 L1117.4 380.6 L1114.6 381.7 L1111.5 382.5 L1108.4 383.1 L1105.1 383.5 L1101.7 383.6 L1098.3 383.5 L1095 383.1 L1091.9 382.5 L1088.8 381.7 L1086 380.6 L1083.5 379.3 L1081.3 377.8 L1079.4 376.2 L1077.9 374.5 L1076.9 372.6 L1076.2 370.7 L1076 368.8 L1076.2 366.9 L1076.9 365 L1077.9 363.1 L1079.4 361.4 L1081.3 359.8 L1083.5 358.3Z" fill="#fff"/>
<path d="M1076 362.8 L1076 368.8"/>
<path d="M1189 327.3 L1189 333.3"/>
<path d="M1145.1 316.8 L1147.6 315.5 L1150.4 314.4 L1153.5 313.6 L1156.6 313 L1159.9 312.6 L1163.3 312.5 L1166.7 312.6 L1170 313 L1173.1 313.6 L1176.2 314.4 L1179 315.5 L1181.5 316.8 L1183.7 318.3 L1185.6 319.9 L1187.1 321.6 L1188.1 323.5 L1188.8 325.4 L1189 327.3 L1188.8 329.2 L1188.1 331.1 L1187.1 333 L1185.6 334.7 L1183.7 336.3 L1181.5 337.8 L1119.9 373.3 L1117.4 374.6 L1114.6 375.7 L1111.5 376.5 L1108.4 377.1 L1105.1 377.5 L1101.7 377.6 L1098.3 377.5 L1095 377.1 L1091.9 376.5 L1088.8 375.7 L1086 374.6 L1083.5 373.3 L1081.3 371.8 L1079.4 370.2 L1077.9 368.5 L1076.9 366.6 L1076.2 364.7 L1076 362.8 L1076.2 360.9 L1076.9 359 L1077.9 357.1 L1079.4 355.4 L1081.3 353.8 L1083.5 352.3Z" fill="#fff"/>
<path d="M1142.9 602.9 C1143.3 602.6 1144.5 601.4 1145.3 601.4 C1146.1 601.4 1147.3 602.6 1147.8 602.9 L1245.9 659.6 C1246.9 660.3 1250.4 662.2 1251.6 664.1 C1252.9 666 1253.2 669.7 1253.5 670.8 L1252.8 709.8 C1252.6 710.6 1252.4 713.5 1251.5 714.9 C1250.7 716.3 1248.3 717.8 1247.7 718.3 L1227 730.4 C1226.7 730.3 1225.4 730.5 1224.9 729.9 C1224.4 729.4 1224.6 728.4 1224 726.9 C1223.5 725.4 1222.5 722.6 1221.5 720.9 C1220.4 719.2 1219.1 717.8 1217.6 716.6 C1216.1 715.4 1214.2 714.4 1212.4 713.9 C1210.7 713.4 1209.2 713.3 1207.3 713.6 C1205.4 713.9 1203.3 714.8 1201.3 715.8 C1199.3 716.7 1197.1 718 1195.3 719.2 C1193.4 720.4 1191.8 721.5 1190.1 723.1 C1188.4 724.6 1187 726.1 1185 728.6 C1183 731.2 1180.1 734.7 1178.1 738.1 C1176.1 741.5 1174.1 746.4 1172.9 749.3 C1171.8 752.1 1171.8 753.3 1171.2 755.3 C1170.7 757.3 1170.4 759.6 1169.5 761.3 C1168.6 762.9 1166.6 764.5 1166.1 765.1 L1142.7 779.3 L1039.9 719.4 C1039.1 718.9 1036 717.8 1034.9 716.2 C1033.9 714.6 1033.8 710.9 1033.6 709.9 L1033.6 667.2 C1033.8 666.5 1033.9 664.1 1034.9 663.1 C1036 662.2 1039.1 661.6 1039.9 661.3Z" fill="#fff"/>
<path d="M1252.2 665.3 L1146.3 723.9 C1145.7 724.4 1143.6 725.6 1142.9 726.9 C1142.2 728.3 1142.3 731.2 1142.2 732.1 L1142.6 779.1"/>
<path d="M1201.3 716.2 L1224.5 729.9"/>
<ellipse cx="1104" cy="685.5" rx="13.7" ry="7.7" fill="#fff"/>
<clipPath id="h1104"><ellipse cx="1104" cy="685.5" rx="13.7" ry="7.7"/></clipPath>
<g clip-path="url(#h1104)">
<path d="M1097.2 697.1 L1095.3 696.3 L1093.6 695.4 L1092.3 694.4 L1091.2 693.2 L1090.6 692 L1090.3 690.7 L1090.4 689.4 L1090.9 688.1 L1091.8 686.9 L1093 685.8 L1094.5 684.9 L1096.3 684 L1098.3 683.4 L1100.5 683" stroke-width="2.3"/>
<path d="M1107.5 683 L1109.7 683.4 L1111.7 684 L1113.5 684.9 L1115 685.8 L1116.2 686.9 L1117.1 688.1 L1117.6 689.4 L1117.7 690.7 L1117.4 692 L1116.8 693.2 L1115.7 694.4 L1114.4 695.4 L1112.7 696.3 L1110.8 697.1" stroke-width="2.3"/>
<path d="M1097.2 701.8 L1095.3 701 L1093.6 700.1 L1092.3 699.1 L1091.2 697.9 L1090.6 696.7 L1090.3 695.4 L1090.4 694.1 L1090.9 692.8 L1091.8 691.6 L1093 690.5 L1094.5 689.6 L1096.3 688.7 L1098.3 688.1 L1100.5 687.7" stroke-width="2.3"/>
<path d="M1107.5 687.7 L1109.7 688.1 L1111.7 688.7 L1113.5 689.6 L1115 690.5 L1116.2 691.6 L1117.1 692.8 L1117.6 694.1 L1117.7 695.4 L1117.4 696.7 L1116.8 697.9 L1115.7 699.1 L1114.4 700.1 L1112.7 701 L1110.8 701.8" stroke-width="2.3"/>
</g>
<ellipse cx="1172" cy="641.8" rx="13.7" ry="7.7" fill="#fff"/>
<clipPath id="h1172"><ellipse cx="1172" cy="641.8" rx="13.7" ry="7.7"/></clipPath>
<g clip-path="url(#h1172)">
<path d="M1165.2 653.4 L1163.3 652.6 L1161.6 651.7 L1160.3 650.7 L1159.2 649.5 L1158.6 648.3 L1158.3 647 L1158.4 645.7 L1158.9 644.4 L1159.8 643.2 L1161 642.1 L1162.5 641.2 L1164.3 640.3 L1166.3 639.7 L1168.5 639.3" stroke-width="2.3"/>
<path d="M1175.5 639.3 L1177.7 639.7 L1179.7 640.3 L1181.5 641.2 L1183 642.1 L1184.2 643.2 L1185.1 644.4 L1185.6 645.7 L1185.7 647 L1185.4 648.3 L1184.8 649.5 L1183.7 650.7 L1182.4 651.7 L1180.7 652.6 L1178.8 653.4" stroke-width="2.3"/>
<path d="M1165.2 658.1 L1163.3 657.3 L1161.6 656.4 L1160.3 655.4 L1159.2 654.2 L1158.6 653 L1158.3 651.7 L1158.4 650.4 L1158.9 649.1 L1159.8 647.9 L1161 646.8 L1162.5 645.9 L1164.3 645 L1166.3 644.4 L1168.5 644" stroke-width="2.3"/>
<path d="M1175.5 644 L1177.7 644.4 L1179.7 645 L1181.5 645.9 L1183 646.8 L1184.2 647.9 L1185.1 649.1 L1185.6 650.4 L1185.7 651.7 L1185.4 653 L1184.8 654.2 L1183.7 655.4 L1182.4 656.4 L1180.7 657.3 L1178.8 658.1" stroke-width="2.3"/>
</g>
<path d="M1103.9 617 L1103.9 631" stroke="#fff" stroke-width="9" stroke-linecap="butt"/>
<path d="M1103.9 601.2 L1103.9 604.5" stroke="#fff" stroke-width="9.5" stroke-linecap="butt"/>
<path d="M1103.9 619.4 L1103.9 624.3" stroke="#fff" stroke-width="9.5" stroke-linecap="butt"/>
<path d="M1103.9 638.2 L1103.9 683.6" stroke="#fff" stroke-width="9.5" stroke-linecap="butt"/>
<path d="M1103.9 598.2 L1103.9 607.5" stroke-width="2.2" stroke-linecap="butt"/>
<path d="M1103.9 616.4 L1103.9 627.3" stroke-width="2.2" stroke-linecap="butt"/>
<path d="M1103.9 635.2 L1103.9 686.6" stroke-width="2.2" stroke-linecap="butt"/>
<path d="M1172 575 L1172 580.2" stroke="#fff" stroke-width="9.5" stroke-linecap="butt"/>
<path d="M1172 595.5 L1172 641" stroke="#fff" stroke-width="9.5" stroke-linecap="butt"/>
<path d="M1172 572 L1172 583.2" stroke-width="2.2" stroke-linecap="butt"/>
<path d="M1172 592.5 L1172 644" stroke-width="2.2" stroke-linecap="butt"/>
<path d="M1189.9 723.5 L1189.9 758.5" stroke-width="2.4" stroke-linecap="butt"/>
<path d="M1228.8 779.3 L1228.8 806.8 C1229.5 807.7 1231.1 810.8 1233.1 812 C1235 813.1 1237.9 813.7 1240.4 813.7 C1242.8 813.7 1245.7 813.1 1247.7 812 C1249.6 810.8 1251.4 807.7 1252.1 806.8 L1252.1 779.3Z" fill="#fff"/>
<path d="M1228.8 800.8 C1228.3 801.4 1226.5 803.1 1226.2 804.2 C1225.9 805.4 1226.9 807.1 1227 807.7" stroke-width="4"/>
<path d="M1252.1 800.8 C1252.6 801.4 1254.4 803.1 1254.7 804.2 C1255 805.4 1254 807.1 1253.8 807.7" stroke-width="4"/>
<ellipse cx="1240.2" cy="767" rx="20.7" ry="13.6" stroke-width="3" fill="#fff"/>
<ellipse cx="1240.2" cy="765.5" rx="20.7" ry="13.8" fill="#fff"/>
<ellipse cx="1240.2" cy="757.8" rx="8.6" ry="4.4" stroke-width="3.4"/>
<path d="M1366.8 876 L1351 866.2 C1350.1 866 1347.7 864.9 1345.7 865 C1343.7 865.1 1341.6 865.6 1339.2 867 C1336.8 868.5 1333.5 870.7 1331.1 873.5 C1328.7 876.4 1326.2 880.6 1324.6 884.1 C1323 887.6 1321.9 891.5 1321.4 894.6 C1320.8 897.7 1320.8 900.3 1321.4 902.7 C1321.9 905.2 1324.1 908.1 1324.6 909.2 L1342.5 919.8Z" fill="#fff" stroke="none"/>
<path d="M1366.8 876 L1351 866.2 C1350.1 866 1347.7 864.9 1345.7 865 C1343.7 865.1 1341.6 865.6 1339.2 867 C1336.8 868.5 1333.5 870.7 1331.1 873.5 C1328.7 876.4 1326.2 880.6 1324.6 884.1 C1323 887.6 1321.9 891.5 1321.4 894.6 C1320.8 897.7 1320.8 900.3 1321.4 902.7 C1321.9 905.2 1324.1 908.1 1324.6 909.2 L1342.5 919.8"/>
<path d="M1366.8 876 C1366 876.4 1364.1 876.5 1361.9 878.4 C1359.8 880.3 1356.5 883.5 1353.8 887.3 C1351.1 891.1 1347.6 896.8 1345.7 901.1 C1343.8 905.4 1343 909.9 1342.5 913.3 C1341.9 916.6 1341.9 918.9 1342.5 921.4 C1343 923.8 1344.5 926.4 1345.7 927.9 C1346.9 929.4 1348.3 929.6 1349.8 930.5 C1351.2 931.3 1352.9 932.5 1354.6 933.1 C1356.4 933.8 1358.3 934.5 1360.3 934.4 C1362.3 934.2 1364.6 933.4 1366.8 932.3 C1369 931.2 1370.8 929.4 1373.3 927.9 C1375.7 926.3 1379.1 925 1381.4 923 C1383.7 921 1385.6 918.3 1387.1 915.7 C1388.6 913.1 1389.6 910 1390.3 907.6 C1391.1 905.2 1391.3 903.5 1391.5 901.1 C1391.8 898.7 1392.1 895.6 1391.9 893 C1391.7 890.4 1391.3 887.9 1390.3 885.7 C1389.4 883.5 1388.1 881.6 1386.3 880 C1384.4 878.4 1381.1 876.8 1379 876 C1376.8 875.1 1375.3 874.7 1373.3 874.7 C1371.2 874.7 1367.9 875.8 1366.8 876" fill="#fff"/>
<path d="M1376.5 877.2 C1375.2 877.9 1371.4 879.3 1368.4 881.6 C1365.4 884 1361.7 887.5 1358.7 891.4 C1355.7 895.3 1352.5 900.8 1350.6 905.2 C1348.7 909.5 1347.7 913.9 1347.3 917.3 C1346.9 920.7 1347.5 923.2 1348.1 925.4 C1348.8 927.6 1350.8 929.6 1351.4 930.5"/>
<path d="M1390.5 901.1 C1390.3 900.4 1390.5 898.1 1389.5 897 C1388.5 896 1386.8 894.7 1384.6 895 C1382.5 895.3 1379 896.6 1376.5 898.7 C1374.1 900.8 1371.5 904.5 1370 907.6 C1368.5 910.7 1367.6 914.8 1367.6 917.3 C1367.6 919.9 1368.8 921.9 1370 923 C1371.2 924.1 1373.1 924.3 1374.9 924.2 C1376.7 924.1 1379.6 922.7 1380.6 922.4"/>
<path d="M1387.9 906 C1387.3 905.9 1386 904.9 1384.6 905.6 C1383.3 906.2 1380.9 908.3 1379.8 910 C1378.6 911.7 1377.9 914 1377.7 915.7 C1377.6 917.4 1378.2 919.4 1379 920.2 C1379.7 921 1381 921.2 1382.2 920.6 C1383.4 920 1385.2 918.3 1386.3 916.5 C1387.3 914.8 1388.4 911.8 1388.7 910 C1389 908.3 1388 906.6 1387.9 906" stroke-width="3.2"/>
<path d="M1276.8 852.2 L1308.4 870" stroke="#fff" stroke-width="8.5" stroke-linecap="butt"/>
<path d="M1268.7 847.6 L1311.6 871.9"/>
<path d="M1318.9 876.4 L1325.8 880.4"/>
<path d="M1145.6 910.3 L1117.3 926.4 L1117.6 934.8 C1117.4 936.1 1116.9 939.5 1116 942.5 C1115 945.5 1113.3 950 1112.1 952.8 C1110.9 955.6 1111.1 956.1 1108.9 959.3 C1106.6 962.4 1100.3 969.5 1098.6 971.5 L1170.1 1019.2 L1215.2 1019.8 L1214.5 982.4 L1214.5 949.6Z" fill="#fff" stroke="none"/>
<path d="M1214.5 949.6 L1145.6 910.3 L1117.3 926.4 L1117.6 934.8 C1117.4 936.1 1116.9 939.5 1116 942.5 C1115 945.5 1113.3 950 1112.1 952.8 C1110.9 955.6 1110.5 956.7 1108.9 959.3 C1107.3 961.8 1104.6 965.8 1102.4 968.3 C1100.3 970.7 1097.1 973.1 1096 974.1"/>
<path d="M1117.9 927.7 L1214.5 982.4"/>
<path d="M1063.8 956.7 L1036.1 973 C1035.7 973.4 1034.1 974 1033.7 975 C1033.2 975.9 1033.5 978.2 1033.5 978.8 L1033.5 1018.5 C1033.7 1019.4 1033.8 1022.2 1034.8 1023.7 C1035.8 1025.2 1038.6 1026.9 1039.3 1027.5 L1143 1088.1 L1215.2 1045.6 L1215.2 1019.8 C1214.4 1020.8 1212.7 1023.2 1210.6 1025.6 C1208.6 1028 1205.7 1031.5 1202.9 1034 C1200.1 1036.4 1196.9 1038.9 1193.9 1040.4 C1190.9 1041.9 1187.6 1042.9 1184.9 1043 C1182.2 1043.1 1179.8 1042.3 1177.8 1041.1 C1175.8 1039.8 1173.9 1037.5 1172.6 1035.3 C1171.4 1033 1170.5 1030.2 1170.1 1027.5 C1169.6 1024.8 1170.1 1020.6 1170.1 1019.2Z" fill="#fff"/>
<path d="M1170.1 1019.2 L1147.5 1031.4 C1146.9 1031.9 1144.5 1033 1143.7 1034.6 C1142.8 1036.2 1142.6 1040 1142.4 1041.1 L1143 1088.1"/>
<ellipse cx="1103.7" cy="994" rx="13.9" ry="8"/>
<ellipse cx="1189.4" cy="952.2" rx="13.5" ry="8"/>
<path d="M1215.2 967 L1215.4 1040.4 C1215.9 1041.7 1216.2 1045.9 1218.4 1048.1 C1220.6 1050.4 1224.9 1052.7 1228.7 1053.9 C1232.4 1055.2 1236.8 1055.6 1240.9 1055.6 C1245 1055.6 1249.3 1055.2 1253.2 1053.9 C1257 1052.7 1261.7 1050.4 1264.1 1048.1 C1266.5 1045.9 1267 1041.7 1267.6 1040.4 L1267.6 967Z" fill="#fff"/>
<path d="M1205.2 938 C1205.3 940.3 1205.1 947.8 1205.5 951.5 C1205.9 955.3 1206.1 957.9 1207.4 960.5 C1208.7 963.2 1210.1 965.6 1213.2 967.6 C1216.3 969.7 1221.8 971.6 1226.1 972.8 C1230.4 973.9 1234.7 974.5 1239 974.5 C1243.3 974.5 1247.6 973.9 1251.9 972.8 C1256.2 971.6 1261.3 969.7 1264.8 967.6 C1268.2 965.6 1270.8 963.2 1272.5 960.5 C1274.2 957.9 1274.3 955.2 1274.8 951.5 C1275.3 947.9 1275.9 942.9 1275.7 938.6 C1275.5 934.4 1275.2 929.4 1273.8 925.8 C1272.4 922.1 1269.9 918.8 1267.3 916.7 C1264.8 914.7 1261.1 913.9 1258.3 913.5 C1255.5 913.1 1252.6 914 1250.6 914.4 C1248.5 914.9 1246.8 915.8 1246.1 916.1 L1235.8 921.9 C1234.2 922.9 1229.2 925.9 1226.1 927.7 C1223 929.5 1220.6 931.1 1217.1 932.8 C1213.6 934.6 1207.2 937.1 1205.2 938Z" fill="#fff" stroke="none"/>
<path d="M1235.8 921.9 C1234.2 922.9 1229.2 925.9 1226.1 927.7 C1223 929.5 1220.6 931.1 1217.1 932.8 C1213.6 934.6 1207.2 937.1 1205.2 938 C1205.3 940.3 1205.1 947.8 1205.5 951.5 C1205.9 955.3 1206.1 957.9 1207.4 960.5 C1208.7 963.2 1210.1 965.6 1213.2 967.6 C1216.3 969.7 1221.8 971.6 1226.1 972.8 C1230.4 973.9 1234.7 974.5 1239 974.5 C1243.3 974.5 1247.6 973.9 1251.9 972.8 C1256.2 971.6 1261.3 969.7 1264.8 967.6 C1268.2 965.6 1270.8 963.2 1272.5 960.5 C1274.2 957.9 1274.3 955.2 1274.8 951.5 C1275.3 947.9 1275.9 942.9 1275.7 938.6 C1275.5 934.4 1275.2 929.4 1273.8 925.8 C1272.4 922.1 1269.9 918.8 1267.3 916.7 C1264.8 914.7 1261.1 913.9 1258.3 913.5 C1255.5 913.1 1252.6 914 1250.6 914.4 C1248.5 914.9 1246.8 915.8 1246.1 916.1"/>
<path d="M1206.1 939.3 C1208.6 940.8 1216.3 945.5 1221 948.3 C1225.6 951.1 1230 953.9 1233.8 956 C1237.7 958.2 1240.7 959.9 1244.1 961.2 C1247.6 962.5 1251.4 963.5 1254.4 963.8 C1257.5 964 1259.8 963.4 1262.2 962.5 C1264.5 961.5 1266.7 959.9 1268.6 958 C1270.5 956 1272.7 952.1 1273.5 950.9"/>
<ellipse cx="1240.5" cy="948.3" rx="8.8" ry="4.9"/>
<ellipse cx="1240.5" cy="950.2" rx="5.8" ry="2.4" stroke-width="2"/>
<path d="M1103.9 770.4 L1103.9 776.9" stroke="#fff" stroke-width="9.5" stroke-linecap="butt"/>
<path d="M1103.9 792.3 L1103.9 835.5" stroke="#fff" stroke-width="9.5" stroke-linecap="butt"/>
<path d="M1103.9 849.6 L1103.9 854.2" stroke="#fff" stroke-width="9.5" stroke-linecap="butt"/>
<path d="M1103.9 869.6 L1103.9 914" stroke="#fff" stroke-width="9.5" stroke-linecap="butt"/>
<path d="M1103.9 928.8 L1103.9 933.4" stroke="#fff" stroke-width="9.5" stroke-linecap="butt"/>
<path d="M1103.9 947.5 L1103.9 991.2" stroke="#fff" stroke-width="9.5" stroke-linecap="butt"/>
<path d="M1103.9 757.5 L1103.9 761.2" stroke-width="2.2" stroke-linecap="butt"/>
<path d="M1103.9 767.4 L1103.9 779.9" stroke-width="2.2" stroke-linecap="butt"/>
<path d="M1103.9 789.3 L1103.9 838.5" stroke-width="2.2" stroke-linecap="butt"/>
<path d="M1103.9 846.6 L1103.9 857.2" stroke-width="2.2" stroke-linecap="butt"/>
<path d="M1103.9 866.6 L1103.9 917" stroke-width="2.2" stroke-linecap="butt"/>
<path d="M1103.9 925.8 L1103.9 936.4" stroke-width="2.2" stroke-linecap="butt"/>
<path d="M1103.9 944.5 L1103.9 994.2" stroke-width="2.2" stroke-linecap="butt"/>
<path d="M1189.7 848.4 L1189.7 871.7" stroke="#fff" stroke-width="9.5" stroke-linecap="butt"/>
<path d="M1189.7 886.4 L1189.7 891.6" stroke="#fff" stroke-width="9.5" stroke-linecap="butt"/>
<path d="M1189.7 905.1 L1189.7 949" stroke="#fff" stroke-width="9.5" stroke-linecap="butt"/>
<path d="M1189.7 845.4 L1189.7 874.7" stroke-width="2.2" stroke-linecap="butt"/>
<path d="M1189.7 883.4 L1189.7 894.6" stroke-width="2.2" stroke-linecap="butt"/>
<path d="M1189.7 902.1 L1189.7 952" stroke-width="2.2" stroke-linecap="butt"/>
<path d="M1240.3 911.3 L1240.3 947.7" stroke="#fff" stroke-width="9.5" stroke-linecap="butt"/>
<path d="M1240.3 908.3 L1240.3 950.7" stroke-width="2.2" stroke-linecap="butt"/>
<path d="M1168.1 1111.5 C1168.5 1113 1169 1117.9 1170.6 1120.2 C1172.3 1122.6 1175 1124.6 1178.1 1125.8 C1181.2 1127.1 1185.5 1127.8 1189.2 1127.7 C1192.9 1127.6 1197.3 1126.6 1200.4 1125.2 C1203.5 1123.7 1206 1121.1 1207.8 1119 C1209.6 1116.9 1210.7 1113.8 1211.3 1112.8Z" fill="#fff"/>
<path d="M1165.6 1094.8 L1165.6 1104.7 L1173.1 1118 L1196 1122.3 L1214 1111.8 L1213.8 1102.2 L1196 1112.2 L1172.8 1108.4Z" fill="#fff"/>
<path d="M1172.8 1108.4 L1173.1 1118"/>
<path d="M1196 1112.2 L1196 1122.3"/>
<path d="M1165.6 1094.8 L1183.6 1084.6 L1207.2 1088 L1213.8 1102.2 L1196 1112.2 L1172.8 1108.4Z" fill="#fff"/>
<ellipse cx="1189.8" cy="1098.8" rx="8.8" ry="5" stroke-width="3"/>
<ellipse cx="1189.8" cy="1100.4" rx="5.6" ry="2.4" stroke-width="2"/>
<path d="M1082.3 1194 C1082.7 1195.5 1083.2 1200.4 1084.8 1202.7 C1086.5 1205.1 1089.2 1207.1 1092.3 1208.3 C1095.4 1209.6 1099.7 1210.3 1103.4 1210.2 C1107.1 1210.1 1111.5 1209.1 1114.6 1207.7 C1117.7 1206.2 1120.2 1203.6 1122 1201.5 C1123.8 1199.4 1124.9 1196.3 1125.5 1195.3Z" fill="#fff"/>
<path d="M1079.8 1177.3 L1079.8 1187.2 L1087.3 1200.5 L1110.2 1204.8 L1128.2 1194.3 L1128 1184.7 L1110.2 1194.7 L1087 1190.9Z" fill="#fff"/>
<path d="M1087 1190.9 L1087.3 1200.5"/>
<path d="M1110.2 1194.7 L1110.2 1204.8"/>
<path d="M1079.8 1177.3 L1097.8 1167.1 L1121.4 1170.5 L1128 1184.7 L1110.2 1194.7 L1087 1190.9Z" fill="#fff"/>
<ellipse cx="1104" cy="1181.3" rx="8.8" ry="5" stroke-width="3"/>
<ellipse cx="1104" cy="1182.9" rx="5.6" ry="2.4" stroke-width="2"/>
<path d="M1202 1160 L1202 1239.9 L1202 1239.9 L1202.1 1241.7 L1202.5 1243.5 L1203.1 1245.3 L1203.9 1247 L1205 1248.7 L1206.2 1250.3 L1207.7 1251.9 L1209.4 1253.4 L1211.3 1254.8 L1213.4 1256.2 L1215.6 1257.4 L1218 1258.5 L1220.5 1259.5 L1223.2 1260.4 L1226 1261.1 L1228.8 1261.8 L1231.7 1262.3 L1234.7 1262.6 L1237.8 1262.8 L1240.8 1262.9 L1243.8 1262.8 L1246.9 1262.6 L1249.9 1262.3 L1252.8 1261.8 L1255.6 1261.1 L1258.4 1260.4 L1261.1 1259.5 L1263.6 1258.5 L1266 1257.4 L1268.2 1256.2 L1270.3 1254.8 L1272.2 1253.4 L1273.9 1251.9 L1275.4 1250.3 L1276.6 1248.7 L1277.7 1247 L1278.5 1245.3 L1279.1 1243.5 L1279.5 1241.7 L1279.6 1239.9 L1279.6 1160Z" fill="#fff"/>
<path d="M1189 1134.8 L1189 1145.7 L1189.2 1148.1 L1189.6 1150.4 L1190.4 1152.7 L1191.5 1155 L1192.9 1157.2 L1194.6 1159.3 L1196.6 1161.4 L1198.8 1163.3 L1201.3 1165.2 L1204.1 1166.9 L1207.1 1168.5 L1210.2 1170 L1213.6 1171.3 L1217.1 1172.4 L1220.8 1173.4 L1224.6 1174.2 L1228.5 1174.9 L1232.4 1175.3 L1236.5 1175.6 L1240.5 1175.7 L1244.5 1175.6 L1248.6 1175.3 L1252.5 1174.9 L1256.4 1174.2 L1260.2 1173.4 L1263.9 1172.4 L1267.4 1171.3 L1270.8 1170 L1273.9 1168.5 L1276.9 1166.9 L1279.7 1165.2 L1282.2 1163.3 L1284.4 1161.4 L1286.4 1159.3 L1288.1 1157.2 L1289.5 1155 L1290.6 1152.7 L1291.4 1150.4 L1291.8 1148.1 L1292 1145.7 L1292 1134.8" fill="#fff"/>
<ellipse cx="1240.5" cy="1134.8" rx="51.5" ry="30" fill="#fff"/>
<ellipse cx="1240.5" cy="1135.1" rx="39" ry="22.3"/>
<ellipse cx="1240.5" cy="1140.1" rx="30.5" ry="17.4"/>
<path d="M1198.6 1335.3 L1278.8 1288.4 C1281.1 1287.3 1287.9 1283.8 1292.4 1282.2 C1296.9 1280.7 1301.7 1279.6 1306 1278.8 C1310.3 1278.1 1314.2 1277.8 1318.3 1277.9 C1322.3 1278 1327.1 1279 1330.5 1279.5 C1333.9 1280 1336.8 1280.2 1338.7 1280.9 C1340.5 1281.6 1340.9 1283.1 1341.4 1283.6 L1341.1 1348.6 C1343.9 1348.1 1352.4 1347.1 1357.7 1345.5 C1363 1343.8 1368.4 1341.3 1372.7 1338.7 C1377 1336.1 1380.8 1332.7 1383.5 1329.8 C1386.3 1327 1387.9 1323.7 1389 1321.7 C1390.1 1319.6 1389.6 1318.7 1390.3 1317.6 C1391.1 1316.5 1392.4 1315.5 1393.7 1315.2 C1395.1 1314.8 1397 1314.7 1398.5 1315.6 C1400 1316.4 1401.5 1318.2 1402.6 1320.3 C1403.7 1322.5 1404.5 1327.1 1404.9 1328.5 L1404.9 1415.5 L1232.3 1446.8 L1231.9 1445.5 C1230 1445.7 1224.1 1446.1 1220.3 1446.8 C1216.6 1447.5 1212.6 1448.3 1209.4 1449.5 C1206.3 1450.8 1203.4 1452.5 1201.3 1454.3 C1199.2 1456.1 1197.5 1459.4 1196.8 1460.4 L1196.8 1469.9 C1196.2 1470.1 1194.9 1471.1 1193.1 1470.6 C1191.4 1470.2 1188.2 1468.9 1186.3 1467.2 C1184.4 1465.5 1182.6 1463.1 1181.6 1460.4 C1180.5 1457.7 1180.4 1452.5 1180.2 1450.9 L1180.2 1362.5 C1180.4 1360.9 1180.3 1356.1 1181.6 1353 C1182.8 1349.8 1184.8 1346.4 1187.7 1343.4 C1190.5 1340.5 1196.8 1336.6 1198.6 1335.3Z" fill="#fff" stroke="none"/>
<path d="M1341.1 1348.6 L1341.4 1283.6 C1340.9 1283.1 1340.5 1281.6 1338.7 1280.9 C1336.8 1280.2 1333.9 1280 1330.5 1279.5 C1327.1 1279 1322.3 1278 1318.3 1277.9 C1314.2 1277.8 1310.3 1278.1 1306 1278.8 C1301.7 1279.6 1296.9 1280.7 1292.4 1282.2 C1287.9 1283.8 1281.1 1287.3 1278.8 1288.4 L1198.6 1335.3 C1196.8 1336.6 1190.5 1340.5 1187.7 1343.4 C1184.8 1346.4 1182.8 1349.8 1181.6 1353 C1180.3 1356.1 1180.4 1360.9 1180.2 1362.5 L1180.2 1450.9 C1180.4 1452.5 1180.5 1457.7 1181.6 1460.4 C1182.6 1463.1 1184.4 1465.5 1186.3 1467.2 C1188.2 1468.9 1191.4 1470.2 1193.1 1470.6 C1194.9 1471 1196.2 1469.8 1196.8 1469.7 L1196.1 1378.4"/>
<path d="M1180.2 1362.5 C1180.5 1363.9 1181 1368.4 1182.2 1370.7 C1183.5 1372.9 1185.5 1374.8 1187.7 1376.1 C1189.9 1377.4 1194.3 1378 1195.6 1378.4"/>
<path d="M1340 1285 C1336.6 1285.5 1325.7 1286.8 1319.6 1288.4 C1313.5 1289.9 1308.3 1291.9 1303.3 1294.5 C1298.3 1297.1 1293.1 1300.6 1289.7 1304 C1286.3 1307.4 1284.1 1311.5 1282.9 1314.9 C1281.6 1318.3 1281.5 1321.2 1282.2 1324.4 C1282.9 1327.6 1284.7 1331.1 1287 1333.9 C1289.2 1336.8 1291.5 1339.3 1295.8 1341.4 C1300.1 1343.6 1307.5 1345.6 1312.8 1346.8 C1318.1 1348.1 1323 1348.6 1327.8 1348.9 C1332.5 1349.2 1336.4 1349.2 1341.4 1348.6 C1346.4 1348.1 1352.5 1347.1 1357.7 1345.5 C1362.9 1343.8 1368.4 1341.3 1372.7 1338.7 C1377 1336.1 1380.8 1332.7 1383.5 1329.8 C1386.3 1327 1387.9 1323.7 1389 1321.7 C1390.1 1319.6 1389.6 1318.7 1390.3 1317.6 C1391.1 1316.5 1392.4 1315.5 1393.7 1315.2 C1395.1 1314.8 1397 1314.7 1398.5 1315.6 C1400 1316.4 1401.5 1318.2 1402.6 1320.3 C1403.7 1322.5 1404.5 1327.1 1404.9 1328.5"/>
<path d="M1295.8 1341.4 L1266.6 1358.1"/>
<path d="M1196.1 1377.5 C1196.4 1376.1 1196.3 1372 1197.9 1369.3 C1199.4 1366.6 1202.3 1363.4 1205.4 1361.1 C1208.4 1358.9 1212.2 1357.1 1216.2 1355.7 C1220.3 1354.3 1225.2 1353.5 1229.8 1353 C1234.5 1352.4 1240 1352 1244.1 1352.3 C1248.2 1352.6 1250.6 1354 1254.3 1355 C1258.1 1356 1263.4 1356.7 1266.6 1358.4 C1269.7 1360.1 1271.7 1362.7 1273.4 1365.2 C1275.1 1367.7 1276.5 1370.7 1276.8 1373.4 C1277 1376.1 1276.2 1378.9 1274.7 1381.5 C1273.3 1384.1 1270.7 1387 1267.9 1389 C1265.2 1391.1 1262 1392.4 1258.4 1393.8 C1254.8 1395.1 1250.5 1396.4 1246.2 1397.2 C1241.9 1398 1234.8 1398.3 1232.6 1398.5"/>
<path d="M1266.6 1358.4 L1266.8 1389"/>
<path d="M1196.8 1460.4 C1197.5 1459.4 1199.2 1456.1 1201.3 1454.3 C1203.4 1452.5 1206.3 1450.8 1209.4 1449.5 C1212.6 1448.3 1216.6 1447.5 1220.3 1446.8 C1224.1 1446.1 1230 1445.7 1231.9 1445.5"/>
<path d="M1232.3 1399.2 C1233.7 1400 1237.5 1402.6 1240.7 1404 C1243.9 1405.3 1247.5 1406.6 1251.6 1407.4 C1255.7 1408.1 1260.7 1408.6 1265.2 1408.5 C1269.7 1408.4 1274.3 1407.7 1278.8 1406.7 C1283.3 1405.7 1288.3 1404.1 1292.4 1402.6 C1296.5 1401.1 1301.5 1398.6 1303.3 1397.9 L1386.3 1350.3 C1387.9 1349.1 1393.1 1345.9 1395.8 1343.4 C1398.5 1341 1401.1 1337.8 1402.6 1335.3 C1404.1 1332.8 1404.5 1329.6 1404.9 1328.5 L1404.9 1426.4 C1403.5 1428 1398.9 1433.6 1396.5 1435.9 C1394 1438.3 1392.7 1439.1 1390.3 1440.7 C1388 1442.3 1383.5 1444.7 1382.2 1445.5 L1306 1489 C1303.8 1490 1296.9 1493.4 1292.4 1495.1 C1287.9 1496.8 1283.3 1498.2 1278.8 1499.2 C1274.3 1500.1 1269.7 1500.7 1265.2 1500.8 C1260.7 1500.9 1255.7 1500.5 1251.6 1499.9 C1247.5 1499.3 1243.9 1498.4 1240.7 1497.1 C1237.5 1495.9 1233.7 1493.2 1232.3 1492.4Z" fill="#fff" stroke="none"/>
<path d="M1404.9 1415.5 L1404.9 1328.5 C1404.5 1329.6 1404.1 1332.8 1402.6 1335.3 C1401.1 1337.8 1398.5 1341 1395.8 1343.4 C1393.1 1345.9 1387.9 1349.1 1386.3 1350.3 L1303.3 1397.9 C1301.5 1398.6 1296.5 1401.1 1292.4 1402.6 C1288.3 1404.1 1283.3 1405.7 1278.8 1406.7 C1274.3 1407.7 1269.7 1408.4 1265.2 1408.5 C1260.7 1408.6 1255.7 1408.1 1251.6 1407.4 C1247.5 1406.6 1243.9 1405.3 1240.7 1404 C1237.5 1402.6 1233.7 1400 1232.3 1399.2 L1232.3 1492.4 C1233.7 1493.2 1237.5 1495.9 1240.7 1497.1 C1243.9 1498.4 1247.5 1499.3 1251.6 1499.9 C1255.7 1500.5 1260.7 1500.9 1265.2 1500.8 C1269.7 1500.7 1274.3 1500.1 1278.8 1499.2 C1283.3 1498.2 1287.9 1496.8 1292.4 1495.1 C1296.9 1493.4 1303.8 1490 1306 1489 L1382.2 1445.5 C1383.5 1444.7 1387.9 1442.3 1390.3 1440.7 C1392.8 1439.1 1395.8 1436.5 1396.9 1435.7"/>
<ellipse cx="1348.9" cy="1393.1" rx="10" ry="17.2" transform="rotate(30 1348.9 1393.1)"/>
<ellipse cx="1349.3" cy="1445.5" rx="10" ry="17.2" transform="rotate(30 1349.3 1445.5)"/>
<path d="M1504.9 1471.4 L1438 1432.9 C1437.3 1432.9 1435.2 1432.1 1433.5 1432.9 C1431.8 1433.6 1429.3 1435.3 1427.8 1437.4 C1426.3 1439.5 1424.9 1443.1 1424.4 1445.3 C1423.9 1447.6 1424.6 1449.7 1425 1451 C1425.4 1452.3 1426.4 1452.9 1426.7 1453.3 L1493.6 1491.8Z" fill="#fff" stroke="none"/>
<path d="M1504.9 1471.4 L1438 1432.9 C1437.3 1432.9 1435.2 1432.1 1433.5 1432.9 C1431.8 1433.6 1429.3 1435.3 1427.8 1437.4 C1426.3 1439.5 1424.9 1443.1 1424.4 1445.3 C1423.9 1447.6 1424.6 1449.7 1425 1451 C1425.4 1452.3 1426.4 1452.9 1426.7 1453.3 L1493.6 1491.8"/>
<path d="M1443.7 1436.3 C1442.5 1436.9 1438.3 1438.2 1436.3 1440.2 C1434.3 1442.3 1432.4 1446 1431.8 1448.7 C1431.2 1451.4 1432.4 1455.2 1432.6 1456.4" stroke-width="2.3"/>
<path d="M1448.6 1439.1 C1447.4 1439.8 1443.3 1441 1441.3 1443.1 C1439.3 1445.2 1437.4 1448.9 1436.7 1451.6 C1436.1 1454.3 1437.4 1458 1437.5 1459.3" stroke-width="2.3"/>
<path d="M1453.6 1442 C1452.4 1442.7 1448.2 1443.9 1446.2 1446 C1444.2 1448 1442.3 1451.8 1441.7 1454.5 C1441.1 1457.2 1442.4 1460.9 1442.5 1462.2" stroke-width="2.3"/>
<path d="M1458.6 1444.9 C1457.3 1445.5 1453.2 1446.7 1451.2 1448.8 C1449.2 1450.9 1447.3 1454.6 1446.6 1457.3 C1446 1460 1447.3 1463.8 1447.4 1465" stroke-width="2.3"/>
<path d="M1463.5 1447.7 C1462.3 1448.4 1458.1 1449.6 1456.1 1451.7 C1454.2 1453.8 1452.2 1457.5 1451.6 1460.2 C1451 1462.9 1452.3 1466.6 1452.4 1467.9" stroke-width="2.3"/>
<path d="M1468.5 1450.6 C1467.2 1451.2 1463.1 1452.5 1461.1 1454.6 C1459.1 1456.6 1457.2 1460.4 1456.6 1463.1 C1455.9 1465.8 1457.2 1469.5 1457.4 1470.8" stroke-width="2.3"/>
<path d="M1473.4 1453.4 C1472.2 1454.1 1468 1455.3 1466.1 1457.4 C1464.1 1459.5 1462.1 1463.2 1461.5 1465.9 C1460.9 1468.6 1462.2 1472.3 1462.3 1473.6" stroke-width="2.3"/>
<path d="M1478.4 1456.3 C1477.2 1457 1473 1458.2 1471 1460.3 C1469 1462.4 1467.1 1466.1 1466.5 1468.8 C1465.9 1471.5 1467.1 1475.2 1467.3 1476.5" stroke-width="2.3"/>
<path d="M1483.3 1459.2 C1482.1 1459.8 1478 1461.1 1476 1463.1 C1474 1465.2 1472.1 1468.9 1471.4 1471.6 C1470.8 1474.3 1472.1 1478.1 1472.2 1479.3" stroke-width="2.3"/>
<path d="M1488.3 1462 C1487.1 1462.7 1482.9 1463.9 1480.9 1466 C1478.9 1468.1 1477 1471.8 1476.4 1474.5 C1475.8 1477.2 1477.1 1480.9 1477.2 1482.2" stroke-width="2.3"/>
<path d="M1493.3 1464.9 C1492 1465.6 1487.9 1466.8 1485.9 1468.9 C1483.9 1470.9 1482 1474.7 1481.4 1477.4 C1480.7 1480.1 1482 1483.8 1482.1 1485.1" stroke-width="2.3"/>
<path d="M1498.2 1467.8 C1497 1468.4 1492.8 1469.6 1490.8 1471.7 C1488.9 1473.8 1486.9 1477.5 1486.3 1480.2 C1485.7 1482.9 1487 1486.6 1487.1 1487.9" stroke-width="2.3"/>
<path d="M1533.2 1478.8 L1516.2 1468.8 C1515.5 1468.8 1513.6 1468.3 1511.7 1468.7 C1509.8 1469.1 1507 1469.6 1504.9 1471.4 C1502.8 1473.2 1500.9 1476.3 1499.2 1479.3 C1497.5 1482.4 1495.4 1486.5 1494.7 1489.5 C1493.9 1492.6 1494.2 1495.1 1494.7 1497.5 C1495.2 1499.8 1497 1502.7 1497.5 1503.7 L1511.7 1512.2Z" fill="#fff" stroke="none"/>
<path d="M1533.2 1478.8 L1516.2 1468.8 C1515.5 1468.8 1513.6 1468.3 1511.7 1468.7 C1509.8 1469.1 1507 1469.6 1504.9 1471.4 C1502.8 1473.2 1500.9 1476.3 1499.2 1479.3 C1497.5 1482.4 1495.4 1486.5 1494.7 1489.5 C1493.9 1492.6 1494.2 1495.1 1494.7 1497.5 C1495.2 1499.8 1497 1502.7 1497.5 1503.7 L1511.7 1512.2"/>
<path d="M1503.2 1473.7 C1502.2 1474.9 1499.1 1478.4 1497.5 1481 C1495.9 1483.7 1494.3 1487.4 1493.6 1489.5 C1492.8 1491.7 1493.1 1493.3 1493 1494.1" stroke-width="2"/>
<ellipse cx="1522.5" cy="1494.6" rx="11.9" ry="20.6" fill="#fff" transform="rotate(30 1522.5 1494.6)"/>
<ellipse cx="1522.5" cy="1494.6" rx="10.2" ry="17.8" stroke-width="2" transform="rotate(30 1522.5 1494.6)"/>
<path d="M1520.8 1483.9 L1530.4 1484.4 L1530.1 1495.2 L1521.3 1506 L1513.1 1504.9 L1512.6 1495.2Z" stroke-width="2.3"/>
<path d="M1525.9 1534.9 L1459 1496.4 C1458.3 1496.4 1456.2 1495.6 1454.5 1496.4 C1452.8 1497.1 1450.3 1498.8 1448.8 1500.9 C1447.3 1503 1445.9 1506.6 1445.4 1508.8 C1444.9 1511.1 1445.6 1513.2 1446 1514.5 C1446.4 1515.8 1447.4 1516.4 1447.7 1516.8 L1514.6 1555.3Z" fill="#fff" stroke="none"/>
<path d="M1525.9 1534.9 L1459 1496.4 C1458.3 1496.4 1456.2 1495.6 1454.5 1496.4 C1452.8 1497.1 1450.3 1498.8 1448.8 1500.9 C1447.3 1503 1445.9 1506.6 1445.4 1508.8 C1444.9 1511.1 1445.6 1513.2 1446 1514.5 C1446.4 1515.8 1447.4 1516.4 1447.7 1516.8 L1514.6 1555.3"/>
<path d="M1464.7 1499.8 C1463.5 1500.4 1459.3 1501.7 1457.3 1503.7 C1455.3 1505.8 1453.4 1509.5 1452.8 1512.2 C1452.2 1514.9 1453.4 1518.7 1453.6 1519.9" stroke-width="2.3"/>
<path d="M1469.6 1502.6 C1468.4 1503.3 1464.3 1504.5 1462.3 1506.6 C1460.3 1508.7 1458.4 1512.4 1457.7 1515.1 C1457.1 1517.8 1458.4 1521.5 1458.5 1522.8" stroke-width="2.3"/>
<path d="M1474.6 1505.5 C1473.4 1506.2 1469.2 1507.4 1467.2 1509.5 C1465.2 1511.5 1463.3 1515.3 1462.7 1518 C1462.1 1520.7 1463.4 1524.4 1463.5 1525.7" stroke-width="2.3"/>
<path d="M1479.6 1508.4 C1478.3 1509 1474.2 1510.2 1472.2 1512.3 C1470.2 1514.4 1468.3 1518.1 1467.6 1520.8 C1467 1523.5 1468.3 1527.3 1468.4 1528.5" stroke-width="2.3"/>
<path d="M1484.5 1511.2 C1483.3 1511.9 1479.1 1513.1 1477.1 1515.2 C1475.2 1517.3 1473.2 1521 1472.6 1523.7 C1472 1526.4 1473.3 1530.1 1473.4 1531.4" stroke-width="2.3"/>
<path d="M1489.5 1514.1 C1488.2 1514.7 1484.1 1516 1482.1 1518.1 C1480.1 1520.1 1478.2 1523.9 1477.6 1526.6 C1476.9 1529.3 1478.2 1533 1478.4 1534.3" stroke-width="2.3"/>
<path d="M1494.4 1516.9 C1493.2 1517.6 1489 1518.8 1487.1 1520.9 C1485.1 1523 1483.1 1526.7 1482.5 1529.4 C1481.9 1532.1 1483.2 1535.8 1483.3 1537.1" stroke-width="2.3"/>
<path d="M1499.4 1519.8 C1498.2 1520.5 1494 1521.7 1492 1523.8 C1490 1525.9 1488.1 1529.6 1487.5 1532.3 C1486.9 1535 1488.1 1538.7 1488.3 1540" stroke-width="2.3"/>
<path d="M1504.3 1522.7 C1503.1 1523.3 1499 1524.6 1497 1526.6 C1495 1528.7 1493.1 1532.4 1492.4 1535.1 C1491.8 1537.8 1493.1 1541.6 1493.2 1542.8" stroke-width="2.3"/>
<path d="M1509.3 1525.5 C1508.1 1526.2 1503.9 1527.4 1501.9 1529.5 C1499.9 1531.6 1498 1535.3 1497.4 1538 C1496.8 1540.7 1498.1 1544.4 1498.2 1545.7" stroke-width="2.3"/>
<path d="M1514.3 1528.4 C1513 1529.1 1508.9 1530.3 1506.9 1532.4 C1504.9 1534.4 1503 1538.2 1502.4 1540.9 C1501.7 1543.6 1503 1547.3 1503.1 1548.6" stroke-width="2.3"/>
<path d="M1519.2 1531.3 C1518 1531.9 1513.8 1533.1 1511.8 1535.2 C1509.9 1537.3 1507.9 1541 1507.3 1543.7 C1506.7 1546.4 1508 1550.1 1508.1 1551.4" stroke-width="2.3"/>
<path d="M1554.2 1542.3 L1537.2 1532.3 C1536.5 1532.3 1534.6 1531.8 1532.7 1532.2 C1530.8 1532.6 1528 1533.1 1525.9 1534.9 C1523.8 1536.7 1521.9 1539.8 1520.2 1542.8 C1518.5 1545.9 1516.4 1550 1515.7 1553 C1514.9 1556.1 1515.2 1558.6 1515.7 1561 C1516.2 1563.3 1518 1566.2 1518.5 1567.2 L1532.7 1575.7Z" fill="#fff" stroke="none"/>
<path d="M1554.2 1542.3 L1537.2 1532.3 C1536.5 1532.3 1534.6 1531.8 1532.7 1532.2 C1530.8 1532.6 1528 1533.1 1525.9 1534.9 C1523.8 1536.7 1521.9 1539.8 1520.2 1542.8 C1518.5 1545.9 1516.4 1550 1515.7 1553 C1514.9 1556.1 1515.2 1558.6 1515.7 1561 C1516.2 1563.3 1518 1566.2 1518.5 1567.2 L1532.7 1575.7"/>
<path d="M1524.2 1537.2 C1523.2 1538.4 1520.1 1541.9 1518.5 1544.5 C1516.9 1547.2 1515.3 1550.9 1514.6 1553 C1513.8 1555.2 1514.1 1556.8 1514 1557.6" stroke-width="2"/>
<ellipse cx="1543.5" cy="1558.1" rx="11.9" ry="20.6" fill="#fff" transform="rotate(30 1543.5 1558.1)"/>
<ellipse cx="1543.5" cy="1558.1" rx="10.2" ry="17.8" stroke-width="2" transform="rotate(30 1543.5 1558.1)"/>
<path d="M1541.8 1547.4 L1551.4 1547.9 L1551.1 1558.7 L1542.3 1569.5 L1534.1 1568.4 L1533.6 1558.7Z" stroke-width="2.3"/>
<path d="M1192.2 1821.9 L1192.9 1824 L1193.8 1826 L1195 1827.9 L1196.3 1829.9 L1197.9 1831.7 L1199.6 1833.5 L1201.6 1835.2 L1203.7 1836.8 L1206 1838.3 L1208.5 1839.7 L1211.1 1841 L1213.8 1842.1 L1216.7 1843.2 L1219.7 1844.1 L1222.8 1844.9 L1225.9 1845.5 L1229.1 1846 L1232.4 1846.4 L1235.7 1846.6 L1239 1846.7 L1242.3 1846.6 L1245.6 1846.4 L1248.9 1846 L1252.1 1845.5 L1255.2 1844.9 L1258.3 1844.1 L1261.3 1843.2 L1264.2 1842.1 L1266.9 1841 L1269.5 1839.7 L1272 1838.3 L1274.3 1836.8 L1276.4 1835.2 L1278.4 1833.5 L1280.1 1831.7 L1281.7 1829.9 L1283 1827.9 L1284.2 1826 L1285.1 1824 L1285.8 1821.9" fill="#fff"/>
<path d="M1184.1 1780.7 L1184.1 1808.2 L1184.1 1808.2 L1184.3 1810.6 L1184.8 1813 L1185.6 1815.4 L1186.8 1817.8 L1188.3 1820.1 L1190.1 1822.3 L1192.2 1824.4 L1194.6 1826.4 L1197.3 1828.3 L1200.2 1830.1 L1203.3 1831.8 L1206.7 1833.3 L1210.3 1834.6 L1214.1 1835.8 L1218 1836.8 L1222 1837.7 L1226.2 1838.3 L1230.4 1838.8 L1234.7 1839.1 L1239 1839.2 L1243.3 1839.1 L1247.6 1838.8 L1251.8 1838.3 L1256 1837.7 L1260 1836.8 L1263.9 1835.8 L1267.7 1834.6 L1271.3 1833.3 L1274.7 1831.8 L1277.8 1830.1 L1280.7 1828.3 L1283.4 1826.4 L1285.8 1824.4 L1287.9 1822.3 L1289.7 1820.1 L1291.2 1817.8 L1292.4 1815.4 L1293.2 1813 L1293.7 1810.6 L1293.9 1808.2 L1293.9 1780.7Z" fill="#fff" stroke="none"/>
<clipPath id="kn"><path d="M1184.1 1780.7 L1184.3 1783.1 L1184.8 1785.5 L1185.6 1787.9 L1186.8 1790.2 L1188.3 1792.5 L1190.1 1794.7 L1192.2 1796.8 L1194.6 1798.9 L1197.3 1800.8 L1200.2 1802.5 L1203.3 1804.2 L1206.7 1805.7 L1210.3 1807 L1214.1 1808.2 L1218 1809.2 L1222 1810.1 L1226.2 1810.7 L1230.4 1811.2 L1234.7 1811.5 L1239 1811.6 L1243.3 1811.5 L1247.6 1811.2 L1251.8 1810.7 L1256 1810.1 L1260 1809.2 L1263.9 1808.2 L1267.7 1807 L1271.3 1805.7 L1274.7 1804.2 L1277.8 1802.5 L1280.7 1800.8 L1283.4 1798.9 L1285.8 1796.8 L1287.9 1794.7 L1289.7 1792.5 L1291.2 1790.2 L1292.4 1787.9 L1293.2 1785.5 L1293.7 1783.1 L1293.9 1780.7 L1293.9 1808.2 L1293.9 1808.2 L1293.7 1810.6 L1293.2 1813 L1292.4 1815.4 L1291.2 1817.8 L1289.7 1820.1 L1287.9 1822.3 L1285.8 1824.4 L1283.4 1826.4 L1280.7 1828.3 L1277.8 1830.1 L1274.7 1831.8 L1271.3 1833.3 L1267.7 1834.6 L1263.9 1835.8 L1260 1836.8 L1256 1837.7 L1251.8 1838.3 L1247.6 1838.8 L1243.3 1839.1 L1239 1839.2 L1234.7 1839.1 L1230.4 1838.8 L1226.2 1838.3 L1222 1837.7 L1218 1836.8 L1214.1 1835.8 L1210.3 1834.6 L1206.7 1833.3 L1203.3 1831.8 L1200.2 1830.1 L1197.3 1828.3 L1194.6 1826.4 L1192.2 1824.4 L1190.1 1822.3 L1188.3 1820.1 L1186.8 1817.8 L1185.6 1815.4 L1184.8 1813 L1184.3 1810.6 L1184.1 1808.2 L1184.1 1780.7Z"/></clipPath>
<g clip-path="url(#kn)">
<path d="M1078.3 1758.5 L1188.3 1868.5" stroke-width="2.2"/>
<path d="M1238.3 1758.5 L1128.3 1868.5" stroke-width="2.2"/>
<path d="M1105.2 1758.5 L1215.2 1868.5" stroke-width="2.2"/>
<path d="M1265.2 1758.5 L1155.2 1868.5" stroke-width="2.2"/>
<path d="M1132.1 1758.5 L1242.1 1868.5" stroke-width="2.2"/>
<path d="M1292.1 1758.5 L1182.1 1868.5" stroke-width="2.2"/>
<path d="M1159 1758.5 L1269 1868.5" stroke-width="2.2"/>
<path d="M1319 1758.5 L1209 1868.5" stroke-width="2.2"/>
<path d="M1185.9 1758.5 L1295.9 1868.5" stroke-width="2.2"/>
<path d="M1345.9 1758.5 L1235.9 1868.5" stroke-width="2.2"/>
<path d="M1212.8 1758.5 L1322.8 1868.5" stroke-width="2.2"/>
<path d="M1372.8 1758.5 L1262.8 1868.5" stroke-width="2.2"/>
<path d="M1239.7 1758.5 L1349.7 1868.5" stroke-width="2.2"/>
<path d="M1399.7 1758.5 L1289.7 1868.5" stroke-width="2.2"/>
</g>
<path d="M1184.1 1780.7 L1184.1 1808.2 L1184.1 1808.2 L1184.3 1810.6 L1184.8 1813 L1185.6 1815.4 L1186.8 1817.8 L1188.3 1820.1 L1190.1 1822.3 L1192.2 1824.4 L1194.6 1826.4 L1197.3 1828.3 L1200.2 1830.1 L1203.3 1831.8 L1206.7 1833.3 L1210.3 1834.6 L1214.1 1835.8 L1218 1836.8 L1222 1837.7 L1226.2 1838.3 L1230.4 1838.8 L1234.7 1839.1 L1239 1839.2 L1243.3 1839.1 L1247.6 1838.8 L1251.8 1838.3 L1256 1837.7 L1260 1836.8 L1263.9 1835.8 L1267.7 1834.6 L1271.3 1833.3 L1274.7 1831.8 L1277.8 1830.1 L1280.7 1828.3 L1283.4 1826.4 L1285.8 1824.4 L1287.9 1822.3 L1289.7 1820.1 L1291.2 1817.8 L1292.4 1815.4 L1293.2 1813 L1293.7 1810.6 L1293.9 1808.2 L1293.9 1780.7"/>
<ellipse cx="1239" cy="1780.7" rx="54.9" ry="30.9" fill="#fff"/>
<ellipse cx="1239" cy="1776.7" rx="47.2" ry="25"/>
<path d="M1224.8 1660.3 L1224.8 1775.8 L1224.8 1775.8 L1224.9 1776.4 L1225 1777.1 L1225.2 1777.7 L1225.5 1778.3 L1225.9 1778.9 L1226.4 1779.4 L1226.9 1780 L1227.6 1780.5 L1228.2 1781 L1229 1781.5 L1229.8 1781.9 L1230.7 1782.3 L1231.6 1782.6 L1232.6 1782.9 L1233.6 1783.2 L1234.6 1783.4 L1235.7 1783.6 L1236.8 1783.7 L1237.9 1783.8 L1239 1783.8 L1240.1 1783.8 L1241.2 1783.7 L1242.3 1783.6 L1243.4 1783.4 L1244.4 1783.2 L1245.4 1782.9 L1246.4 1782.6 L1247.3 1782.3 L1248.2 1781.9 L1249 1781.5 L1249.8 1781 L1250.4 1780.5 L1251.1 1780 L1251.6 1779.4 L1252.1 1778.9 L1252.5 1778.3 L1252.8 1777.7 L1253 1777.1 L1253.1 1776.4 L1253.2 1775.8 L1253.1 1660.3Z" fill="#fff"/>
<path d="M1253.2 1662.5 L1253.1 1663.1 L1253 1663.6 L1252.8 1664.2 L1252.5 1664.7 L1252.1 1665.3 L1251.6 1665.8 L1251.1 1666.3 L1250.4 1666.7 L1249.8 1667.2 L1249 1667.6 L1248.2 1668 L1247.3 1668.3 L1246.4 1668.6 L1245.4 1668.9 L1244.4 1669.2 L1243.4 1669.3 L1242.3 1669.5 L1241.2 1669.6 L1240.1 1669.7 L1239 1669.7 L1237.9 1669.7 L1236.8 1669.6 L1235.7 1669.5 L1234.6 1669.3 L1233.6 1669.2 L1232.6 1668.9 L1231.6 1668.6 L1230.7 1668.3 L1229.8 1668 L1229 1667.6 L1228.2 1667.2 L1227.6 1666.7 L1226.9 1666.3 L1226.4 1665.8 L1225.9 1665.3 L1225.5 1664.7 L1225.2 1664.2 L1225 1663.6 L1224.9 1663.1 L1224.8 1662.5" stroke-width="2.3"/>
<path d="M1253.2 1669.7 L1253.1 1670.3 L1253 1670.8 L1252.8 1671.4 L1252.5 1671.9 L1252.1 1672.5 L1251.6 1673 L1251.1 1673.5 L1250.4 1673.9 L1249.8 1674.4 L1249 1674.8 L1248.2 1675.2 L1247.3 1675.5 L1246.4 1675.8 L1245.4 1676.1 L1244.4 1676.4 L1243.4 1676.5 L1242.3 1676.7 L1241.2 1676.8 L1240.1 1676.9 L1239 1676.9 L1237.9 1676.9 L1236.8 1676.8 L1235.7 1676.7 L1234.6 1676.5 L1233.6 1676.4 L1232.6 1676.1 L1231.6 1675.8 L1230.7 1675.5 L1229.8 1675.2 L1229 1674.8 L1228.2 1674.4 L1227.6 1673.9 L1226.9 1673.5 L1226.4 1673 L1225.9 1672.5 L1225.5 1671.9 L1225.2 1671.4 L1225 1670.8 L1224.9 1670.3 L1224.8 1669.7" stroke-width="2.3"/>
<path d="M1253.2 1676.9 L1253.1 1677.5 L1253 1678 L1252.8 1678.6 L1252.5 1679.1 L1252.1 1679.7 L1251.6 1680.2 L1251.1 1680.7 L1250.4 1681.1 L1249.8 1681.6 L1249 1682 L1248.2 1682.4 L1247.3 1682.7 L1246.4 1683 L1245.4 1683.3 L1244.4 1683.6 L1243.4 1683.7 L1242.3 1683.9 L1241.2 1684 L1240.1 1684.1 L1239 1684.1 L1237.9 1684.1 L1236.8 1684 L1235.7 1683.9 L1234.6 1683.7 L1233.6 1683.6 L1232.6 1683.3 L1231.6 1683 L1230.7 1682.7 L1229.8 1682.4 L1229 1682 L1228.2 1681.6 L1227.6 1681.1 L1226.9 1680.7 L1226.4 1680.2 L1225.9 1679.7 L1225.5 1679.1 L1225.2 1678.6 L1225 1678 L1224.9 1677.5 L1224.8 1676.9" stroke-width="2.3"/>
<path d="M1253.2 1684.1 L1253.1 1684.7 L1253 1685.2 L1252.8 1685.8 L1252.5 1686.3 L1252.1 1686.9 L1251.6 1687.4 L1251.1 1687.9 L1250.4 1688.3 L1249.8 1688.8 L1249 1689.2 L1248.2 1689.6 L1247.3 1689.9 L1246.4 1690.2 L1245.4 1690.5 L1244.4 1690.8 L1243.4 1690.9 L1242.3 1691.1 L1241.2 1691.2 L1240.1 1691.3 L1239 1691.3 L1237.9 1691.3 L1236.8 1691.2 L1235.7 1691.1 L1234.6 1690.9 L1233.6 1690.8 L1232.6 1690.5 L1231.6 1690.2 L1230.7 1689.9 L1229.8 1689.6 L1229 1689.2 L1228.2 1688.8 L1227.6 1688.3 L1226.9 1687.9 L1226.4 1687.4 L1225.9 1686.9 L1225.5 1686.3 L1225.2 1685.8 L1225 1685.2 L1224.9 1684.7 L1224.8 1684.1" stroke-width="2.3"/>
<path d="M1253.2 1691.3 L1253.1 1691.9 L1253 1692.4 L1252.8 1693 L1252.5 1693.5 L1252.1 1694.1 L1251.6 1694.6 L1251.1 1695.1 L1250.4 1695.5 L1249.8 1696 L1249 1696.4 L1248.2 1696.8 L1247.3 1697.1 L1246.4 1697.4 L1245.4 1697.7 L1244.4 1698 L1243.4 1698.1 L1242.3 1698.3 L1241.2 1698.4 L1240.1 1698.5 L1239 1698.5 L1237.9 1698.5 L1236.8 1698.4 L1235.7 1698.3 L1234.6 1698.1 L1233.6 1698 L1232.6 1697.7 L1231.6 1697.4 L1230.7 1697.1 L1229.8 1696.8 L1229 1696.4 L1228.2 1696 L1227.6 1695.5 L1226.9 1695.1 L1226.4 1694.6 L1225.9 1694.1 L1225.5 1693.5 L1225.2 1693 L1225 1692.4 L1224.9 1691.9 L1224.8 1691.3" stroke-width="2.3"/>
<ellipse cx="1239" cy="1660.3" rx="14.2" ry="7.5" fill="#fff"/>
<ellipse cx="1239" cy="1603.2" rx="30.3" ry="17.9" fill="#fff"/>
<ellipse cx="1239" cy="1600.6" rx="30.3" ry="17.9" fill="#fff"/>
<ellipse cx="1239" cy="1600.6" rx="17.9" ry="10.3"/>
<clipPath id="wi"><ellipse cx="1239" cy="1600.6" rx="17.9" ry="10.3"/></clipPath>
<g clip-path="url(#wi)">
<ellipse cx="1239" cy="1603.2" rx="17.9" ry="10.3" stroke-width="2.2"/>
</g>
<path d="M1103.9 1068 L1103.9 1100.2" stroke="#fff" stroke-width="9.5" stroke-linecap="butt"/>
<path d="M1103.9 1115.8 L1103.9 1120.3" stroke="#fff" stroke-width="9.5" stroke-linecap="butt"/>
<path d="M1103.9 1065 L1103.9 1103.2" stroke-width="2.2" stroke-linecap="butt"/>
<path d="M1103.9 1112.8 L1103.9 1123.3" stroke-width="2.2" stroke-linecap="butt"/>
<path d="M1103.9 1131.4 L1103.9 1181" stroke-width="2.2" stroke-linecap="butt"/>
<path d="M1189.7 1064 L1189.7 1096.8" stroke="#fff" stroke-width="9.5" stroke-linecap="butt"/>
<path d="M1189.7 1061 L1189.7 1099.8" stroke-width="2.2" stroke-linecap="butt"/>
<path d="M1240.4 1059.5 L1240.4 1070" stroke="#fff" stroke-width="9.5" stroke-linecap="butt"/>
<path d="M1240.4 1085 L1240.4 1090" stroke="#fff" stroke-width="9.5" stroke-linecap="butt"/>
<path d="M1240.4 1105.5 L1240.4 1149" stroke="#fff" stroke-width="9.5" stroke-linecap="butt"/>
<path d="M1240.4 1056.5 L1240.4 1073" stroke-width="2.6" stroke-linecap="butt"/>
<path d="M1240.4 1082 L1240.4 1093" stroke-width="2.6" stroke-linecap="butt"/>
<path d="M1240.4 1102.5 L1240.4 1152" stroke-width="2.6" stroke-linecap="butt"/>
<path d="M1239.2 1266.5 L1239.2 1295.6" stroke="#fff" stroke-width="9.5" stroke-linecap="butt"/>
<path d="M1239.2 1311.8 L1239.2 1315.3" stroke="#fff" stroke-width="9.5" stroke-linecap="butt"/>
<path d="M1239.2 1330.8 L1239.2 1373.8" stroke="#fff" stroke-width="9.5" stroke-linecap="butt"/>
<path d="M1239.2 1504 L1239.2 1520" stroke="#fff" stroke-width="9.5" stroke-linecap="butt"/>
<path d="M1239.2 1534.9 L1239.2 1539.7" stroke="#fff" stroke-width="9.5" stroke-linecap="butt"/>
<path d="M1239.2 1263.5 L1239.2 1298.6" stroke-width="2.2" stroke-linecap="butt"/>
<path d="M1239.2 1308.8 L1239.2 1318.3" stroke-width="2.2" stroke-linecap="butt"/>
<path d="M1239.2 1327.8 L1239.2 1376.8" stroke-width="2.2" stroke-linecap="butt"/>
<path d="M1239.2 1501 L1239.2 1523" stroke-width="2.2" stroke-linecap="butt"/>
<path d="M1239.2 1531.9 L1239.2 1542.7" stroke-width="2.2" stroke-linecap="butt"/>
<path d="M1239.2 1553.4 L1239.2 1601.1" stroke-width="2.2" stroke-linecap="butt"/>
<path d="M1239.2 1621.4 L1239.2 1660.7" stroke-width="2.2" stroke-linecap="butt"/>
<path d="M1348.9 1393.1 L1391.5 1417.7" stroke-width="2.2" stroke-linecap="butt"/>
<path d="M1398.3 1421.6 L1407.4 1426.9" stroke-width="2.2" stroke-linecap="butt"/>
<path d="M1415.3 1431.4 L1426.7 1438" stroke-width="2.2" stroke-linecap="butt"/>
<path d="M1349.3 1445.5 L1391.5 1469.9" stroke-width="2.2" stroke-linecap="butt"/>
<path d="M1399.5 1474.5 L1409.1 1480" stroke-width="2.2" stroke-linecap="butt"/>
<path d="M1416.5 1484.3 L1449.3 1503.2" stroke-width="2.2" stroke-linecap="butt"/>
<path d="M1298.8 198.3 L1325.1 196.6 L1320 182.5 Z" fill="#000" stroke="none"/>
<path d="M1322.6 189.6 L1690.8 54.5 L1759.6 54.5" stroke-width="2.6"/>
<path d="M1397 409.8 L1441 424.3" stroke="#fff" stroke-width="10.5" stroke-linecap="butt"/>
<path d="M1189 341.3 L1210.4 356.2 L1215.1 342 Z" fill="#000" stroke="none"/>
<path d="M1212.7 349.1 L1690.8 506.5 L1759.6 506.5" stroke-width="2.6"/>
<path d="M1254 677.6 L1281.8 681.3 L1279.7 666.4 Z" fill="#000" stroke="none"/>
<path d="M1280.7 673.9 L1690.8 616.8 L1759.6 616.8" stroke-width="2.6"/>
<path d="M1263.3 765.1 L1290.9 770.2 L1289.5 755.3 Z" fill="#000" stroke="none"/>
<path d="M1290.2 762.7 L1690.8 727.3 L1759.6 727.3" stroke-width="2.6"/>
<path d="M1300 822.4 L1326.7 830.9 L1327.3 815.9 Z" fill="#000" stroke="none"/>
<path d="M1327 823.4 L1690.8 836.5 L1759.6 836.5" stroke-width="2.6"/>
<path d="M1393 904 L1418.7 915.2 L1420.8 900.3 Z" fill="#000" stroke="none"/>
<path d="M1419.7 907.8 L1690.8 946 L1759.6 946" stroke-width="2.6"/>
<path d="M1275.7 952.8 L1299.9 966.9 L1303.7 952.4 Z" fill="#000" stroke="none"/>
<path d="M1301.8 959.6 L1690.8 1061 L1759.6 1061" stroke-width="2.6"/>
<path d="M1298.3 1137.8 L1324.6 1147.5 L1325.8 1132.5 Z" fill="#000" stroke="none"/>
<path d="M1325.2 1140 L1690.8 1170 L1759.6 1170" stroke-width="2.6"/>
<path d="M1347.1 1294.4 L1374.4 1300.7 L1373.8 1285.8 Z" fill="#000" stroke="none"/>
<path d="M1374.1 1293.2 L1690.8 1279.7 L1759.6 1279.7" stroke-width="2.6"/>
<path d="M1408.1 1369.5 L1434.2 1379.7 L1435.7 1364.7 Z" fill="#000" stroke="none"/>
<path d="M1435 1372.2 L1690.8 1398 L1759.6 1398" stroke-width="2.6"/>
<path d="M1557.8 1548.3 L1585.8 1547.4 L1581.3 1533.1 Z" fill="#000" stroke="none"/>
<path d="M1583.6 1540.2 L1690.8 1506.7 L1759.6 1506.7" stroke-width="2.6"/>
<path d="M588.4 504.4 L566.4 516.6 L577.3 526.9 Z" fill="#000" stroke="none"/>
<path d="M571.8 521.8 L264 844.5 L192 844.5" stroke-width="2.6"/>
<path d="M907.7 694.8 L884 704.1 L893.4 715.8 Z" fill="#000" stroke="none"/>
<path d="M888.7 710 L679 878 L607 878" stroke-width="2.6"/>
<path d="M1077.5 1194.9 L1050.5 1196.6 L1055.5 1210.7 Z" fill="#000" stroke="none"/>
<path d="M1053 1203.6 L795.7 1295.6 L723 1295.6" stroke-width="2.6"/>
<path d="M1262.4 1564.6 L1330 1564.6 L1330 1875 L1262.4 1875" stroke-width="2.4"/>
<path d="M1330 1711.6 L1461 1711.6" stroke-width="2.2"/>
<rect x="1760.4" y="8.4" width="91.8" height="90.4" fill="#fff" stroke="#000" stroke-width="3.6" stroke-linejoin="miter"/>
<text x="1806.3" y="69.2" font-size="57" text-anchor="middle" stroke="none" fill="#000">1A</text>
<rect x="1760.4" y="118.3" width="91.8" height="90.4" fill="#fff" stroke="#000" stroke-width="3.6" stroke-linejoin="miter"/>
<text x="1806.3" y="179.1" font-size="57" text-anchor="middle" stroke="none" fill="#000">1B</text>
<rect x="1760.4" y="228.4" width="91.8" height="90.4" fill="#fff" stroke="#000" stroke-width="3.6" stroke-linejoin="miter"/>
<text x="1806.3" y="289.2" font-size="57" text-anchor="middle" stroke="none" fill="#000">1C</text>
<rect x="1760.4" y="461.8" width="91.8" height="90.4" fill="#fff" stroke="#000" stroke-width="3.6" stroke-linejoin="miter"/>
<text x="1806.3" y="522.6" font-size="57" text-anchor="middle" stroke="none" fill="#000">3</text>
<rect x="1760.4" y="571.8" width="91.8" height="90.4" fill="#fff" stroke="#000" stroke-width="3.6" stroke-linejoin="miter"/>
<text x="1806.3" y="632.6" font-size="57" text-anchor="middle" stroke="none" fill="#000">4</text>
<rect x="1760.4" y="682" width="91.8" height="90.4" fill="#fff" stroke="#000" stroke-width="3.6" stroke-linejoin="miter"/>
<text x="1806.3" y="742.8" font-size="57" text-anchor="middle" stroke="none" fill="#000">5</text>
<rect x="1760.4" y="792.1" width="91.8" height="90.4" fill="#fff" stroke="#000" stroke-width="3.6" stroke-linejoin="miter"/>
<text x="1806.3" y="852.9" font-size="57" text-anchor="middle" stroke="none" fill="#000">6</text>
<rect x="1760.4" y="902" width="91.8" height="90.4" fill="#fff" stroke="#000" stroke-width="3.6" stroke-linejoin="miter"/>
<text x="1806.3" y="962.8" font-size="57" text-anchor="middle" stroke="none" fill="#000">7</text>
<rect x="1760.4" y="1015.4" width="91.8" height="90.4" fill="#fff" stroke="#000" stroke-width="3.6" stroke-linejoin="miter"/>
<text x="1806.3" y="1076.2" font-size="57" text-anchor="middle" stroke="none" fill="#000">8</text>
<rect x="1760.4" y="1125.1" width="91.8" height="90.4" fill="#fff" stroke="#000" stroke-width="3.6" stroke-linejoin="miter"/>
<text x="1806.3" y="1185.9" font-size="57" text-anchor="middle" stroke="none" fill="#000">9</text>
<rect x="1760.4" y="1235" width="91.8" height="90.4" fill="#fff" stroke="#000" stroke-width="3.6" stroke-linejoin="miter"/>
<text x="1806.3" y="1295.8" font-size="57" text-anchor="middle" stroke="none" fill="#000">10</text>
<rect x="1760.4" y="1352.1" width="91.8" height="90.4" fill="#fff" stroke="#000" stroke-width="3.6" stroke-linejoin="miter"/>
<text x="1806.3" y="1412.9" font-size="57" text-anchor="middle" stroke="none" fill="#000">11</text>
<rect x="1760.4" y="1462" width="91.8" height="90.4" fill="#fff" stroke="#000" stroke-width="3.6" stroke-linejoin="miter"/>
<text x="1806.3" y="1522.8" font-size="57" text-anchor="middle" stroke="none" fill="#000">12</text>
<rect x="100.3" y="800.8" width="90.4" height="89.9" fill="#fff" stroke="#000" stroke-width="3.6" stroke-linejoin="miter"/>
<text x="145.5" y="861.4" font-size="57" text-anchor="middle" stroke="none" fill="#000">14</text>
<rect x="515" y="834.4" width="91" height="90" fill="#fff" stroke="#000" stroke-width="3.6" stroke-linejoin="miter"/>
<text x="560.5" y="897.5" font-size="57" text-anchor="middle" stroke="none" fill="#000" textLength="80" lengthAdjust="spacingAndGlyphs">15A</text>
<rect x="515" y="944.1" width="91" height="90" fill="#fff" stroke="#000" stroke-width="3.6" stroke-linejoin="miter"/>
<text x="560.5" y="1007.2" font-size="57" text-anchor="middle" stroke="none" fill="#000" textLength="78" lengthAdjust="spacingAndGlyphs">15B</text>
<rect x="515" y="1054.1" width="91" height="90.3" fill="#fff" stroke="#000" stroke-width="3.6" stroke-linejoin="miter"/>
<text x="560.5" y="1117.4" font-size="57" text-anchor="middle" stroke="none" fill="#000" textLength="80" lengthAdjust="spacingAndGlyphs">15C</text>
<rect x="631.8" y="1251.8" width="90.4" height="89.9" fill="#fff" stroke="#000" stroke-width="3.6" stroke-linejoin="miter"/>
<text x="677" y="1315.7" font-size="57" text-anchor="middle" stroke="none" fill="#000">2</text>
<rect x="1461.8" y="1666.8" width="90.4" height="90.4" fill="#fff" stroke="#000" stroke-width="3.6" stroke-linejoin="miter"/>
<text x="1507" y="1727.6" font-size="57" text-anchor="middle" stroke="none" fill="#000">13</text>
<rect x="169.5" y="1486" width="629" height="217" fill="#fff" stroke="#000" stroke-width="2.2"/>
<text x="183.8" y="1539.2" font-size="40" stroke="none" fill="#1a1a1a">To have complete Footrest ship</text>
<text x="183.8" y="1587.1" font-size="40" stroke="none" fill="#1a1a1a">assembled, choose compatible</text>
<text x="183.8" y="1635" font-size="40" stroke="none" fill="#1a1a1a">Hanger + Footplate part numbers</text>
<text x="183.8" y="1682.9" font-size="40" stroke="none" fill="#1a1a1a">and add “ASSY-HNG-FP” to order</text>
</svg>
</body></html>
